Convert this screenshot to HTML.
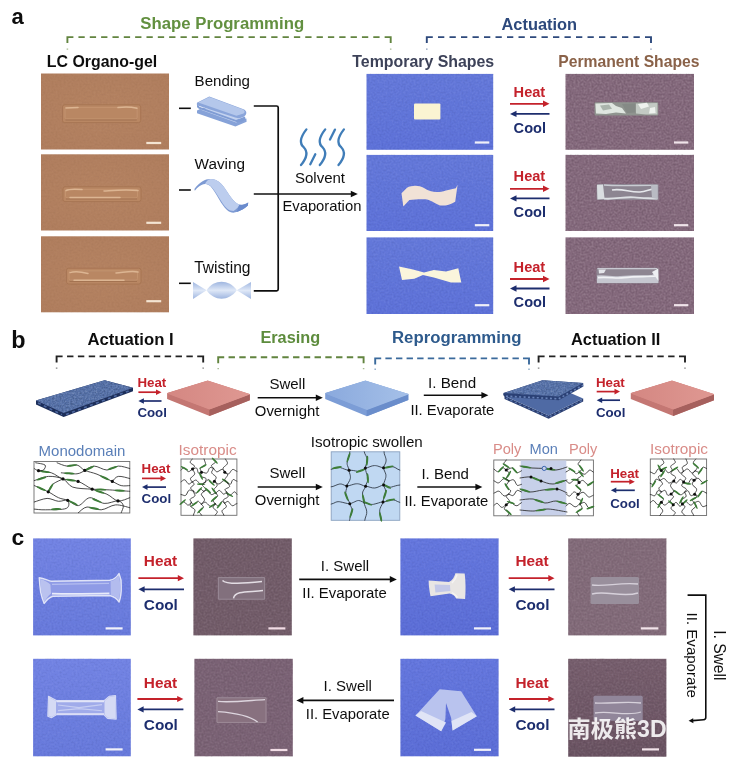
<!DOCTYPE html><html><head><meta charset="utf-8"><title>Figure</title><style>html,body{margin:0;padding:0;background:#fff}svg{display:block}text{font-family:"Liberation Sans", Arial, Helvetica, sans-serif}</style></head><body>
<svg width="737" height="774" viewBox="0 0 737 774">
<defs>
<filter id="soft" x="-5%" y="-5%" width="110%" height="110%"><feGaussianBlur stdDeviation="0.6"/></filter>
<filter id="nzW" x="0" y="0" width="100%" height="100%" color-interpolation-filters="sRGB"><feTurbulence type="fractalNoise" baseFrequency="0.5" numOctaves="2" seed="4"/><feColorMatrix type="matrix" values="0 0 0 0 1  0 0 0 0 1  0 0 0 0 1  0 1.5 0 0 -0.75"/></filter>
<filter id="nzB" x="0" y="0" width="100%" height="100%" color-interpolation-filters="sRGB"><feTurbulence type="fractalNoise" baseFrequency="0.5" numOctaves="2" seed="4"/><feColorMatrix type="matrix" values="0 0 0 0 0  0 0 0 0 0  0 0 0 0 0  0 -1.5 0 0 0.75"/></filter>
<filter id="nzW2" x="0" y="0" width="100%" height="100%" color-interpolation-filters="sRGB"><feTurbulence type="fractalNoise" baseFrequency="0.55" numOctaves="2" seed="9"/><feColorMatrix type="matrix" values="0 0 0 0 1  0 0 0 0 1  0 0 0 0 1  0 1.5 0 0 -0.75"/><feComposite operator="in" in2="SourceAlpha"/></filter>
<filter id="nzB2" x="0" y="0" width="100%" height="100%" color-interpolation-filters="sRGB"><feTurbulence type="fractalNoise" baseFrequency="0.55" numOctaves="2" seed="9"/><feColorMatrix type="matrix" values="0 0 0 0 0  0 0 0 0 0  0 0 0 0 0  0 -1.5 0 0 0.75"/><feComposite operator="in" in2="SourceAlpha"/></filter>
<filter id="gsoft" x="0" y="0" width="100%" height="100%"><feGaussianBlur stdDeviation="0.45"/></filter>
<filter id="soft2" x="-10%" y="-10%" width="120%" height="120%"><feGaussianBlur stdDeviation="1.0"/></filter>
<linearGradient id="gBlueA" x1="0" y1="0" x2="0" y2="1"><stop offset="0" stop-color="#6478d9"/><stop offset="1" stop-color="#5d71d8"/></linearGradient>
<linearGradient id="gBlueC" x1="0" y1="0" x2="0" y2="1"><stop offset="0" stop-color="#7283e3"/><stop offset="1" stop-color="#6779db"/></linearGradient>
<linearGradient id="gBlueC2" x1="0" y1="0" x2="0" y2="1"><stop offset="0" stop-color="#6476dd"/><stop offset="1" stop-color="#5b6dd6"/></linearGradient>
<radialGradient id="gBrown" cx="0.5" cy="0.5" r="0.7"><stop offset="0" stop-color="#b48261"/><stop offset="1" stop-color="#af7d5d"/></radialGradient>
<linearGradient id="gPurD" x1="0" y1="0" x2="0" y2="1"><stop offset="0" stop-color="#765e6d"/><stop offset="1" stop-color="#6a5362"/></linearGradient>
<linearGradient id="gPinkTop" x1="0" y1="0" x2="1" y2="0"><stop offset="0" stop-color="#d48782"/><stop offset="1" stop-color="#df9892"/></linearGradient>
<linearGradient id="gLBTop" x1="0" y1="0" x2="1" y2="0"><stop offset="0" stop-color="#8aa9dd"/><stop offset="1" stop-color="#a5c0e8"/></linearGradient>
<linearGradient id="gTwist" x1="0" y1="0" x2="0" y2="1"><stop offset="0" stop-color="#9fb6e0"/><stop offset="0.5" stop-color="#dfe8f7"/><stop offset="1" stop-color="#9fb6e0"/></linearGradient>
</defs>
<rect x="0.0" y="0.0" width="737.0" height="774.0" fill="#ffffff" />
<g filter="url(#gsoft)">
<text x="11.5" y="23.8" font-size="22" font-weight="700" fill="#111" text-anchor="start" >a</text>
<text x="140.3" y="29.2" font-size="16.75" font-weight="700" fill="#62903f" text-anchor="start" >Shape Programming</text>
<text x="501.5" y="29.8" font-size="16.4" font-weight="700" fill="#2d4a7c" text-anchor="start" >Actuation</text>
<path d="M67.4,43.1 V37.1 H73.4 M384.7,37.1 H390.7 V43.1" fill="none" stroke="#62843f" stroke-width="1.9"/>
<path d="M78.44,37.1 H384.7" fill="none" stroke="#62843f" stroke-width="1.9" stroke-dasharray="6.3,5.04"/>
<path d="M67.4,48.400000000000006 v1.3 M390.7,48.400000000000006 v1.3" stroke="#62843f" stroke-width="1.52" opacity="0.55"/>
<path d="M426.8,43.1 V37.1 H432.8 M645.0,37.1 H651 V43.1" fill="none" stroke="#2d4a7c" stroke-width="1.9"/>
<path d="M438.00,37.1 H645.0" fill="none" stroke="#2d4a7c" stroke-width="1.9" stroke-dasharray="6.3,5.20"/>
<path d="M426.8,48.400000000000006 v1.3 M651,48.400000000000006 v1.3" stroke="#2d4a7c" stroke-width="1.52" opacity="0.55"/>
<text x="46.8" y="66.9" font-size="15.9" font-weight="700" fill="#111" text-anchor="start" >LC Organo-gel</text>
<text x="352.3" y="67.2" font-size="15.9" font-weight="700" fill="#3d4259" text-anchor="start" >Temporary Shapes</text>
<text x="558.2" y="67.2" font-size="15.7" font-weight="700" fill="#8a6248" text-anchor="start" >Permanent Shapes</text>
<rect x="41.0" y="73.5" width="128.0" height="76.0" fill="url(#gBrown)" />
<rect x="41.0" y="73.5" width="128.0" height="76.0" filter="url(#nzW)" opacity="0.06"/><rect x="41.0" y="73.5" width="128.0" height="76.0" filter="url(#nzB)" opacity="0.06"/>
<rect x="41.0" y="154.3" width="128.0" height="76.2" fill="url(#gBrown)" />
<rect x="41.0" y="154.3" width="128.0" height="76.2" filter="url(#nzW)" opacity="0.06"/><rect x="41.0" y="154.3" width="128.0" height="76.2" filter="url(#nzB)" opacity="0.06"/>
<rect x="41.0" y="236.3" width="128.0" height="76.0" fill="url(#gBrown)" />
<rect x="41.0" y="236.3" width="128.0" height="76.0" filter="url(#nzW)" opacity="0.06"/><rect x="41.0" y="236.3" width="128.0" height="76.0" filter="url(#nzB)" opacity="0.06"/>
<rect x="366.5" y="73.9" width="126.7" height="75.9" fill="url(#gBlueA)" />
<rect x="565.5" y="73.9" width="128.5" height="75.9" fill="#84697c" />
<rect x="565.5" y="73.9" width="128.5" height="75.9" filter="url(#nzW)" opacity="0.24"/><rect x="565.5" y="73.9" width="128.5" height="75.9" filter="url(#nzB)" opacity="0.24"/>
<rect x="366.5" y="73.9" width="126.7" height="75.9" filter="url(#nzW)" opacity="0.12"/><rect x="366.5" y="73.9" width="126.7" height="75.9" filter="url(#nzB)" opacity="0.12"/>
<rect x="366.5" y="154.9" width="126.7" height="76.1" fill="url(#gBlueA)" />
<rect x="565.5" y="154.9" width="128.5" height="76.1" fill="#84697c" />
<rect x="565.5" y="154.9" width="128.5" height="76.1" filter="url(#nzW)" opacity="0.24"/><rect x="565.5" y="154.9" width="128.5" height="76.1" filter="url(#nzB)" opacity="0.24"/>
<rect x="366.5" y="154.9" width="126.7" height="76.1" filter="url(#nzW)" opacity="0.12"/><rect x="366.5" y="154.9" width="126.7" height="76.1" filter="url(#nzB)" opacity="0.12"/>
<rect x="366.5" y="237.4" width="126.7" height="76.6" fill="url(#gBlueA)" />
<rect x="565.5" y="237.4" width="128.5" height="76.6" fill="#84697c" />
<rect x="565.5" y="237.4" width="128.5" height="76.6" filter="url(#nzW)" opacity="0.24"/><rect x="565.5" y="237.4" width="128.5" height="76.6" filter="url(#nzB)" opacity="0.24"/>
<rect x="366.5" y="237.4" width="126.7" height="76.6" filter="url(#nzW)" opacity="0.12"/><rect x="366.5" y="237.4" width="126.7" height="76.6" filter="url(#nzB)" opacity="0.12"/>
<g filter="url(#soft)"><rect x="62.5" y="104.8" width="78.19999999999999" height="17.799999999999997" rx="2.2" fill="#b98764" stroke="#a67451" stroke-width="0.9"/><rect x="65.0" y="107.39999999999999" width="72.19999999999999" height="11.399999999999997" rx="1.5" fill="none" stroke="#c4946f" stroke-width="0.9"/><path d="M65.5,120.0 H136.7" stroke="#a27150" stroke-width="1" fill="none"/><path d="M118,107.6 C124,106.6 131,106.8 137,108.2" stroke="#dcb592" stroke-width="1.5" stroke-linecap="round" fill="none"/><path d="M66,108 L78,107.6" stroke="#dcb592" stroke-width="1.5" stroke-linecap="round" fill="none"/></g>
<g filter="url(#soft)"><rect x="63" y="186.8" width="78" height="14.799999999999983" rx="2.2" fill="#b98764" stroke="#a67451" stroke-width="0.9"/><rect x="65.5" y="189.4" width="72" height="8.399999999999983" rx="1.5" fill="none" stroke="#c4946f" stroke-width="0.9"/><path d="M66,199.0 H137" stroke="#a27150" stroke-width="1" fill="none"/><path d="M66,190.6 C70,188.4 76,189 82,189.6" stroke="#dcb592" stroke-width="1.5" stroke-linecap="round" fill="none"/><path d="M104,191 C114,190.4 126,189.2 138,190.6" stroke="#dcb592" stroke-width="1.5" stroke-linecap="round" fill="none"/><path d="M70,197.6 H120" stroke="#dcb592" stroke-width="1.5" stroke-linecap="round" fill="none"/></g>
<g filter="url(#soft)"><rect x="66.5" y="268.2" width="74.5" height="15.800000000000011" rx="2.2" fill="#b98764" stroke="#a67451" stroke-width="0.9"/><rect x="69.0" y="270.8" width="68.5" height="9.400000000000011" rx="1.5" fill="none" stroke="#c4946f" stroke-width="0.9"/><path d="M69.5,281.4 H137" stroke="#a27150" stroke-width="1" fill="none"/><path d="M70,272.6 C76,270.8 82,272 88,273.4" stroke="#dcb592" stroke-width="1.5" stroke-linecap="round" fill="none"/><path d="M116,273 C124,272.4 131,270.6 138,272" stroke="#dcb592" stroke-width="1.5" stroke-linecap="round" fill="none"/><path d="M74,280.2 H124" stroke="#dcb592" stroke-width="1.5" stroke-linecap="round" fill="none"/></g>
<rect x="146.3" y="141.9" width="14.9" height="2.2" fill="#f3e4d2" />
<rect x="146.3" y="221.7" width="14.9" height="2.2" fill="#f3e4d2" />
<rect x="146.3" y="300.1" width="14.9" height="2.2" fill="#f3e4d2" />
<line x1="179" y1="108.3" x2="190.8" y2="108.3" stroke="#111" stroke-width="1.6" />
<line x1="179" y1="190" x2="190.8" y2="190" stroke="#111" stroke-width="1.6" />
<line x1="179" y1="283.3" x2="190.8" y2="283.3" stroke="#111" stroke-width="1.6" />
<path d="M253.8,106 H276.6 Q278.2,106 278.2,107.6 V289.2 Q278.2,290.8 276.6,290.8 H253.8" fill="none" stroke="#111" stroke-width="1.7"/>
<line x1="253.8" y1="194" x2="352.90000000000003" y2="194" stroke="#111" stroke-width="1.6" />
<polygon points="357.8,194 350.8,190.7 350.8,197.3" fill="#111"/>
<text x="194.6" y="85.9" font-size="15.1"  fill="#111" text-anchor="start" >Bending</text>
<text x="194.6" y="169.2" font-size="15.3"  fill="#111" text-anchor="start" >Waving</text>
<text x="194.2" y="273.4" font-size="15.6"  fill="#111" text-anchor="start" >Twisting</text>
<text x="295" y="183.2" font-size="15"  fill="#111" text-anchor="start" >Solvent</text>
<text x="282.4" y="210.9" font-size="14.8"  fill="#111" text-anchor="start" >Evaporation</text>
<g filter="url(#soft)">
<path d="M197,110.6 L203,107.6 L240,120.4 L246.4,118.6 L246.6,121.8 L235.4,126.6 L197,113.2 Z" fill="#86a2d8"/>
<path d="M200,109.6 L236,122.6 L243.5,119.8 L209,108.2 Z" fill="#c3d2ef"/>
<path d="M197.4,104.2 C196.4,106.2 197,108 199,108.8 L236.5,122 C240,123 243,121.5 245.6,119.6 L245,116.5 L236,120 L199.4,106.8 Z" fill="#7f9cd4"/>
<path d="M196.9,102.7 L209.3,96.4 L243.5,109.2 C246.6,110.6 247.2,113.4 245.2,115.4 C243,117.6 239,118.8 236,117.8 L196.9,105.2 Z" fill="#8aa5da"/>
<path d="M198.2,102.4 L209.4,97 L243,109.6 C245,110.6 245.2,112.4 243.6,113.6 L236.4,115.8 Z" fill="#b4c7eb"/>
</g>
<g filter="url(#soft)">
<path d="M194.4,189.1 C197,185.6 199.6,183 202.6,181.3 C205.4,179.6 208,178.8 210.7,179 C214,179.2 216.6,180.2 218.9,181.8 C222,184.2 224.6,187.8 227,191.5 C229.6,195.4 232.2,199.2 235.1,202.1 C237.2,204 239.4,205 241.7,205 C244,204.8 246.2,203.8 248.2,202.4 L247.9,205.4 C245.6,207.6 243,209.6 240,210.6 C237.8,211.6 235.6,212.6 233.5,212.7 C231.2,212.6 229,211.6 227,209.9 C224,207.2 221.4,203.2 218.9,198.9 C216.2,194.4 213.6,190 210.7,186.6 C209,184.8 207,183.8 205,183.9 C203,184.2 201,185 199.3,186.2 C197.6,187.4 196.2,189 194.8,190.7 Z" fill="#7d9ad3"/>
<path d="M205,183.9 C206,181.6 208,179.4 210.7,179 C214,179.2 216.6,180.2 218.9,181.8 C222,184.2 224.6,187.8 227,191.5 C229.6,195.4 232.2,199.2 235.1,202.1 C236.6,203.4 238,204.2 239.4,204.8 C238.4,207 236.6,209.4 233.6,211 C231.4,211 229,210.4 227,208.6 C224,205.8 221.4,201.8 218.9,197.6 C216.2,193 213.6,189 210.7,186 C209,184.4 207,183.8 205,183.9 Z" fill="#bccdee"/>
<path d="M239.4,204.8 C242.4,205 245.6,204 248.2,202.4 L247.9,205.4 C245,208.2 241,210.6 237,212 C237.4,209.6 238.4,207 239.4,204.8 Z" fill="#6a8bcd"/>
</g>
<g filter="url(#soft)">
<path d="M193,282 L206.6,290.3 L193,299 Z" fill="url(#gTwist)"/>
<path d="M206.6,290.3 C214,279 229,279 236.8,290.3 C229,301.5 214,301.5 206.6,290.3 Z" fill="url(#gTwist)"/>
<path d="M251,282 L236.8,290.3 L251,299 Z" fill="url(#gTwist)"/>
</g>
<path d="M306.4,129.4 C299.5,138.3 299.5,143.64000000000001 303.7,147.2 C307.9,151.472 306.9,157.88 301.0,165" fill="none" stroke="#3f7db8" stroke-width="2.3" stroke-linecap="round"/>
<path d="M325.2,129.4 C318.3,138.3 318.3,143.64000000000001 322.5,147.2 C326.7,151.472 325.7,157.88 319.8,165" fill="none" stroke="#3f7db8" stroke-width="2.3" stroke-linecap="round"/>
<path d="M343.9,129.4 C337.0,138.3 337.0,143.64000000000001 341.2,147.2 C345.4,151.472 344.4,157.88 338.5,165" fill="none" stroke="#3f7db8" stroke-width="2.3" stroke-linecap="round"/>
<path d="M315.3,154.2 L310.3,164.3 M335,129.6 L330,139.5" stroke="#3f7db8" stroke-width="2.3" stroke-linecap="round"/>
<g filter="url(#soft)">
<rect x="414" y="103.5" width="26.4" height="16" rx="1" fill="#fbf4d2"/>
<path d="M401.5,193.2 L407,187.7 C412,185 419,185 424,188 C430,192 437,193.5 446,190.5 L455.8,188.3 L457.6,184.7 L455.2,201.7 C450,205 444,206 440,205.4 C434,203 430,199.5 425.3,199.3 C420,199 414,199.5 409.4,200 L403.3,206.6 Z" fill="#f1e2d6"/>
<polygon points="399,266.5 413,269.5 424,272.6 433.8,270 446,271.4 458.3,268.3 461.3,282.4 451,282.4 433.8,277.5 422.9,275 414.3,278.7 402,280" fill="#faf5dc"/>
</g>
<rect x="474.8" y="141.4" width="14.5" height="2.2" fill="#f0f0f8" />
<rect x="674.0" y="141.4" width="14.3" height="2.2" fill="#f0e4ea" />
<rect x="474.8" y="224.1" width="14.5" height="2.2" fill="#f0f0f8" />
<rect x="674.0" y="224.1" width="14.3" height="2.2" fill="#f0e4ea" />
<rect x="474.8" y="304.1" width="14.5" height="2.2" fill="#f0f0f8" />
<rect x="674.0" y="304.1" width="14.3" height="2.2" fill="#f0e4ea" />
<g filter="url(#soft)">
<rect x="594.6" y="102.2" width="63.6" height="13.2" rx="1" fill="#8f948f"/>
<path d="M595.4,103.4 L612,103 L616,106 L622,108 L626,113.6 L616,112.4 L606,114 L596,113.6 Z" fill="#dfe6e0"/>
<path d="M600,105.4 L609,104.6 L612,108.8 L603,110.4 Z" fill="#aab4ac"/>
<path d="M636,103.4 L657.4,103 L657.4,114.4 L646,114.6 L636,113.4 Z" fill="#c3cac4"/>
<path d="M638,104 L647,102.8 L649,106.6 L641,109 Z M650,108 L655,107 L655.6,113 L649,113.6 Z" fill="#eef2ee"/>
<path d="M622,104 L635,103.6 L635,112.6 L627,113 Z" fill="#858a86"/>
<rect x="596.6" y="184" width="62" height="16" rx="1.5" fill="#8c8591"/>
<path d="M597,184.8 L603,184.6 L604.6,199 L597.4,199.4 Z" fill="#d9dde0"/>
<path d="M604,185 C620,186.4 640,185 657.6,185.4" stroke="#c9cbd2" stroke-width="1.3" fill="none"/>
<path d="M604,198.6 C615,199.6 625,196.4 634,197.4 C642,198.6 650,198 657.6,198.6" stroke="#dcdfe3" stroke-width="1.8" fill="none"/>
<path d="M612,190 C622,188 630,192.6 640,192 C646,191.6 650,189 656,188.6" stroke="#e6e8ec" stroke-width="1.6" fill="none"/>
<path d="M651,185 L657.8,185.4 L657.8,199 L652,198 Z" fill="#b9bbc3"/>
<rect x="596.6" y="267.8" width="62" height="15.6" rx="1.5" fill="#8e8692"/>
<path d="M597.4,268.6 H657" stroke="#c9c9d2" stroke-width="1.3" fill="none"/>
<path d="M597,275.6 C606,274.6 612,277 620,276 C632,274.6 645,275.6 652,275 L658,270 L658.4,283 L597,283 Z" fill="#c6c7d0"/>
<path d="M598,277.6 C610,276.6 616,279 624,277.6 C636,276 646,277 656,276" stroke="#f1f2f5" stroke-width="1.7" fill="none"/>
<path d="M598.6,269.6 L606,269.4 L604,273 L599,273.4 Z" fill="#e4e5ea"/>
<path d="M652,272 L658.2,268.6 L658.4,281 Z" fill="#eeeff3"/>
</g>
<text x="513.6" y="96.6" font-size="14.6" font-weight="700" fill="#c4202c" text-anchor="start" >Heat</text>
<line x1="510" y1="103.8" x2="544.95" y2="103.8" stroke="#c4202c" stroke-width="1.8" />
<polygon points="549.5,103.8 543.0,100.6 543.0,107.0" fill="#c4202c"/>
<line x1="549.5" y1="113.9" x2="514.55" y2="113.9" stroke="#1f2e6e" stroke-width="1.8" />
<polygon points="510,113.9 516.5,110.7 516.5,117.10000000000001" fill="#1f2e6e"/>
<text x="513.6" y="133.2" font-size="14.6" font-weight="700" fill="#1f2e6e" text-anchor="start" >Cool</text>
<text x="513.6" y="181.4" font-size="14.6" font-weight="700" fill="#c4202c" text-anchor="start" >Heat</text>
<line x1="510" y1="188.8" x2="544.95" y2="188.8" stroke="#c4202c" stroke-width="1.8" />
<polygon points="549.5,188.8 543.0,185.60000000000002 543.0,192.0" fill="#c4202c"/>
<line x1="549.5" y1="198.4" x2="514.55" y2="198.4" stroke="#1f2e6e" stroke-width="1.8" />
<polygon points="510,198.4 516.5,195.20000000000002 516.5,201.6" fill="#1f2e6e"/>
<text x="513.6" y="217.3" font-size="14.6" font-weight="700" fill="#1f2e6e" text-anchor="start" >Cool</text>
<text x="513.6" y="271.8" font-size="14.6" font-weight="700" fill="#c4202c" text-anchor="start" >Heat</text>
<line x1="510" y1="279" x2="544.95" y2="279" stroke="#c4202c" stroke-width="1.8" />
<polygon points="549.5,279 543.0,275.8 543.0,282.2" fill="#c4202c"/>
<line x1="549.5" y1="288.5" x2="514.55" y2="288.5" stroke="#1f2e6e" stroke-width="1.8" />
<polygon points="510,288.5 516.5,285.3 516.5,291.7" fill="#1f2e6e"/>
<text x="513.6" y="307.4" font-size="14.6" font-weight="700" fill="#1f2e6e" text-anchor="start" >Cool</text>
<text x="11.2" y="347.6" font-size="23.4" font-weight="700" fill="#111" text-anchor="start" >b</text>
<text x="87.4" y="344.7" font-size="16.7" font-weight="700" fill="#111" text-anchor="start" >Actuation I</text>
<text x="260.4" y="343.2" font-size="16.3" font-weight="700" fill="#5d8c3c" text-anchor="start" >Erasing</text>
<text x="392" y="342.7" font-size="16.75" font-weight="700" fill="#2d5a8c" text-anchor="start" >Reprogramming</text>
<text x="571" y="344.7" font-size="16.4" font-weight="700" fill="#111" text-anchor="start" >Actuation II</text>
<path d="M56.6,362.4 V356.4 H62.6 M197.2,356.4 H203.2 V362.4" fill="none" stroke="#222" stroke-width="1.9"/>
<path d="M67.05,356.4 H197.2" fill="none" stroke="#222" stroke-width="1.9" stroke-dasharray="6.4,4.45"/>
<path d="M56.6,367.5 v1.3 M203.2,367.5 v1.3" stroke="#222" stroke-width="1.52" opacity="0.55"/>
<path d="M218.2,363.2 V357.2 H224.2 M357.6,357.2 H363.6 V363.2" fill="none" stroke="#62843f" stroke-width="1.9"/>
<path d="M228.55,357.2 H357.6" fill="none" stroke="#62843f" stroke-width="1.9" stroke-dasharray="6.4,4.35"/>
<path d="M218.2,368.0 v1.3 M363.6,368.0 v1.3" stroke="#62843f" stroke-width="1.52" opacity="0.55"/>
<path d="M375.2,364.4 V358.4 H381.2 M523.0,358.4 H529 V364.4" fill="none" stroke="#3b6a9c" stroke-width="1.9"/>
<path d="M385.39,358.4 H523.0" fill="none" stroke="#3b6a9c" stroke-width="1.9" stroke-dasharray="6.4,4.19"/>
<path d="M375.2,368.59999999999997 v1.3 M529,368.59999999999997 v1.3" stroke="#3b6a9c" stroke-width="1.52" opacity="0.55"/>
<path d="M538.6,362.4 V356.4 H544.6 M679.0,356.4 H685 V362.4" fill="none" stroke="#222" stroke-width="1.9"/>
<path d="M549.03,356.4 H679.0" fill="none" stroke="#222" stroke-width="1.9" stroke-dasharray="6.4,4.43"/>
<path d="M538.6,367.5 v1.3 M685,367.5 v1.3" stroke="#222" stroke-width="1.52" opacity="0.55"/>
<g filter="url(#soft)">
<polygon points="36,400.4 104.6,380.2 133,387.7 133,391.2 63.6,417 36,404.4" fill="#1f2f5a"/>
<polygon points="36,400.4 104.6,380.2 133,387.7 63.6,413" fill="#5671a8"/>
<polygon points="36,400.4 104.6,380.2 133,387.7 63.6,413" filter="url(#nzW2)" opacity="0.35"/><polygon points="36,400.4 104.6,380.2 133,387.7 63.6,413" filter="url(#nzB2)" opacity="0.35"/>
<path d="M66,414.6 L131,390 M38,403 L62,414.6" stroke="#4d68a0" stroke-width="1.6" stroke-dasharray="3,3.4" fill="none"/>
<path d="M50,398 L110,381.6 M60,404 L122,385.6 M48,402 L90,389" stroke="#6079ae" stroke-width="1.2" stroke-dasharray="2,5" fill="none" opacity="0.8"/>
</g>
<g filter="url(#soft)"><polygon points="167.1,393.2 207.7,380.8 249.8,394.2 249.8,400.272 209.6,416.09999999999997 167.1,399.065" fill="#c47773"/><polygon points="209.29999999999998,408.9 249.8,393.9 249.8,400.272 209.29999999999998,416.09999999999997" fill="#a6605d"/><polygon points="167.1,393.2 207.7,380.8 249.8,394.2 209.6,409.2" fill="url(#gPinkTop)" stroke="none" stroke-width="0.6"/><polygon points="167.1,393.59999999999997 167.1,393.0 207.7,380.6 249.8,394.0 249.8,394.59999999999997 209.6,409.59999999999997" fill="url(#gPinkTop)"/></g>
<g filter="url(#soft)"><polygon points="325.2,393.2 365.4,380.8 408.3,394.1 408.3,399.99600000000004 367,416.3 325.2,398.895" fill="#7c9dd6"/><polygon points="366.7,409.3 408.3,393.8 408.3,399.99600000000004 366.7,416.3" fill="#6a8dcb"/><polygon points="325.2,393.2 365.4,380.8 408.3,394.1 367,409.6" fill="url(#gLBTop)" stroke="none" stroke-width="0.6"/><polygon points="325.2,393.59999999999997 325.2,393.0 365.4,380.6 408.3,393.90000000000003 408.3,394.5 367,410.0" fill="url(#gLBTop)"/></g>
<g filter="url(#soft)"><polygon points="630.8,393.2 672,380.8 714,394.2 714,400.272 673.3,416.09999999999997 630.8,399.065" fill="#c47773"/><polygon points="673.0,408.9 714,393.9 714,400.272 673.0,416.09999999999997" fill="#a6605d"/><polygon points="630.8,393.2 672,380.8 714,394.2 673.3,409.2" fill="url(#gPinkTop)" stroke="none" stroke-width="0.6"/><polygon points="630.8,393.59999999999997 630.8,393.0 672,380.6 714,394.0 714,394.59999999999997 673.3,409.59999999999997" fill="url(#gPinkTop)"/></g>
<g filter="url(#soft)">
<polygon points="504.5,396 548.6,415.5 583.2,398.5 583.2,401.6 548.6,418.8 504.5,399" fill="#2a3e70"/>
<polygon points="504.5,396 542.5,381 583.2,398.5 548.6,415.5" fill="#506ba4"/>
<path d="M506,398.2 L548.6,417.2 L582.6,400.2" stroke="#5a75ab" stroke-width="1.3" stroke-dasharray="2.2,2.6" fill="none"/>
<polygon points="503.4,393.1 542.5,380.2 583.2,382.9 583.4,386.6 558.8,400.2 505,397 503.2,395" fill="#2b4074"/>
<path d="M506,396.2 L558.6,398.8 L583,385.2" stroke="#6882b8" stroke-width="1.6" stroke-dasharray="2,2.4" fill="none"/>
<polygon points="503.8,393.1 542.5,380.2 583.2,382.9 558.8,396.5" fill="#5671a8"/>
<polygon points="503.8,393.1 542.5,380.2 583.2,382.9 558.8,396.5" filter="url(#nzW2)" opacity="0.35"/><polygon points="503.8,393.1 542.5,380.2 583.2,382.9 558.8,396.5" filter="url(#nzB2)" opacity="0.35"/>
<path d="M515,391 L548,380.8 M528,393 L562,383 M542,394.6 L574,384.6" stroke="#6a84b8" stroke-width="1.1" stroke-dasharray="1.6,4" fill="none" opacity="0.8"/>
</g>
<text x="137.4" y="386.8" font-size="13.3" font-weight="700" fill="#c4202c" text-anchor="start" >Heat</text>
<line x1="138.4" y1="392.2" x2="157.65" y2="392.2" stroke="#c4202c" stroke-width="1.7" />
<polygon points="161.5,392.2 156.0,389.4 156.0,395.0" fill="#c4202c"/>
<line x1="161.5" y1="401" x2="142.25" y2="401" stroke="#1f2e6e" stroke-width="1.7" />
<polygon points="138.4,401 143.9,398.2 143.9,403.8" fill="#1f2e6e"/>
<text x="137.4" y="417.2" font-size="13.3" font-weight="700" fill="#1f2e6e" text-anchor="start" >Cool</text>
<text x="595.9" y="386.8" font-size="13.3" font-weight="700" fill="#c4202c" text-anchor="start" >Heat</text>
<line x1="596.7" y1="391.6" x2="616.15" y2="391.6" stroke="#c4202c" stroke-width="1.7" />
<polygon points="620,391.6 614.5,388.8 614.5,394.40000000000003" fill="#c4202c"/>
<line x1="620" y1="400.2" x2="600.5500000000001" y2="400.2" stroke="#1f2e6e" stroke-width="1.7" />
<polygon points="596.7,400.2 602.2,397.4 602.2,403.0" fill="#1f2e6e"/>
<text x="595.9" y="417.2" font-size="13.3" font-weight="700" fill="#1f2e6e" text-anchor="start" >Cool</text>
<text x="269.4" y="388.7" font-size="15"  fill="#111" text-anchor="start" >Swell</text>
<line x1="257.7" y1="397.7" x2="317.90000000000003" y2="397.7" stroke="#111" stroke-width="1.6" />
<polygon points="322.8,397.7 315.8,394.4 315.8,401.0" fill="#111"/>
<text x="254.8" y="415.8" font-size="14.9"  fill="#111" text-anchor="start" >Overnight</text>
<text x="428" y="387.9" font-size="15.2"  fill="#111" text-anchor="start" >I. Bend</text>
<line x1="423.8" y1="395.2" x2="483.5" y2="395.2" stroke="#111" stroke-width="1.6" />
<polygon points="488.4,395.2 481.4,391.9 481.4,398.5" fill="#111"/>
<text x="410.4" y="415.4" font-size="14.8"  fill="#111" text-anchor="start" >II. Evaporate</text>
<text x="38.6" y="456" font-size="15"  fill="#5a7fb8" text-anchor="start" >Monodomain</text>
<text x="178.6" y="454.6" font-size="15.35"  fill="#d98c88" text-anchor="start" >Isotropic</text>
<text x="310.8" y="447" font-size="15.15"  fill="#111" text-anchor="start" >Isotropic swollen</text>
<text x="493" y="454.2" font-size="14.6"  fill="#d98c88" text-anchor="start" >Poly</text>
<text x="529.6" y="454.2" font-size="14.6"  fill="#5a7fb8" text-anchor="start" >Mon</text>
<text x="569" y="454.2" font-size="14.6"  fill="#d98c88" text-anchor="start" >Poly</text>
<text x="650" y="453.8" font-size="15.35"  fill="#d98c88" text-anchor="start" >Isotropic</text>
<text x="141.6" y="473.0" font-size="13.3" font-weight="700" fill="#c4202c" text-anchor="start" >Heat</text>
<line x1="142" y1="478.4" x2="162.15" y2="478.4" stroke="#c4202c" stroke-width="1.7" />
<polygon points="166,478.4 160.5,475.59999999999997 160.5,481.2" fill="#c4202c"/>
<line x1="166" y1="487.1" x2="145.85" y2="487.1" stroke="#1f2e6e" stroke-width="1.7" />
<polygon points="142,487.1 147.5,484.3 147.5,489.90000000000003" fill="#1f2e6e"/>
<text x="141.6" y="503.2" font-size="13.3" font-weight="700" fill="#1f2e6e" text-anchor="start" >Cool</text>
<text x="610.2" y="477.6" font-size="13.3" font-weight="700" fill="#c4202c" text-anchor="start" >Heat</text>
<line x1="610.8" y1="481.7" x2="630.9499999999999" y2="481.7" stroke="#c4202c" stroke-width="1.7" />
<polygon points="634.8,481.7 629.3,478.9 629.3,484.5" fill="#c4202c"/>
<line x1="634.8" y1="490.3" x2="614.65" y2="490.3" stroke="#1f2e6e" stroke-width="1.7" />
<polygon points="610.8,490.3 616.3,487.5 616.3,493.1" fill="#1f2e6e"/>
<text x="610.2" y="508" font-size="13.3" font-weight="700" fill="#1f2e6e" text-anchor="start" >Cool</text>
<text x="269.4" y="477.5" font-size="15"  fill="#111" text-anchor="start" >Swell</text>
<line x1="257.7" y1="487" x2="317.90000000000003" y2="487" stroke="#111" stroke-width="1.6" />
<polygon points="322.8,487 315.8,483.7 315.8,490.3" fill="#111"/>
<text x="254.8" y="504.7" font-size="14.9"  fill="#111" text-anchor="start" >Overnight</text>
<text x="421.4" y="478.7" font-size="15"  fill="#111" text-anchor="start" >I. Bend</text>
<line x1="417.3" y1="487" x2="477.5" y2="487" stroke="#111" stroke-width="1.6" />
<polygon points="482.4,487 475.4,483.7 475.4,490.3" fill="#111"/>
<text x="404.4" y="506" font-size="14.8"  fill="#111" text-anchor="start" >II. Evaporate</text>
<g filter="url(#soft)">
<rect x="34" y="461.5" width="95.80000000000001" height="51.5" fill="#fff" stroke="#6d6d6d" stroke-width="0.9"/>
<path d="M34.3,468.5 C35.0,468.9 35.7,470.0 38.5,470.7 C41.4,471.4 47.3,471.4 51.4,472.8 C55.5,474.2 58.6,477.5 63.0,478.9 C67.5,480.4 73.3,479.6 78.1,481.4 C83.0,483.1 87.5,487.1 92.3,489.2 C97.0,491.3 102.6,492.2 106.9,494.2 C111.2,496.1 114.2,500.3 118.0,500.9 C121.8,501.5 127.8,498.3 129.7,497.7" fill="none" stroke="#2b2b2b" stroke-width="0.85" stroke-linecap="round"/>
<ellipse cx="45.0" cy="471.7" rx="5.2" ry="1.05" transform="rotate(9 45.0 471.7)" fill="#3e7d39"/>
<ellipse cx="70.6" cy="480.1" rx="5.2" ry="1.05" transform="rotate(9 70.6 480.1)" fill="#3e7d39"/>
<ellipse cx="99.6" cy="491.7" rx="5.2" ry="1.05" transform="rotate(19 99.6 491.7)" fill="#3e7d39"/>
<path d="M57.1,462.8 C58.7,463.4 63.7,465.8 67.0,466.1 C70.4,466.5 74.0,464.3 77.0,465.0 C80.0,465.7 81.5,468.8 84.8,470.4 C88.2,471.9 92.4,472.4 97.0,474.2 C101.5,476.1 108.3,479.5 112.3,481.4 C116.4,483.3 118.3,484.9 121.2,485.6 C124.1,486.3 128.3,485.6 129.7,485.6" fill="none" stroke="#2b2b2b" stroke-width="0.85" stroke-linecap="round"/>
<ellipse cx="72.0" cy="465.5" rx="5.2" ry="1.05" transform="rotate(-7 72.0 465.5)" fill="#3e7d39"/>
<ellipse cx="104.6" cy="477.8" rx="5.2" ry="1.05" transform="rotate(25 104.6 477.8)" fill="#3e7d39"/>
<path d="M34.3,485.6 C36.6,486.6 44.2,489.7 48.2,491.8 C52.3,493.8 55.2,496.3 58.5,497.7 C61.7,499.2 64.4,499.0 67.7,500.3 C71.1,501.6 74.8,506.0 78.4,505.6 C82.1,505.1 85.6,498.1 89.8,497.7 C94.1,497.4 99.4,502.9 104.1,503.4 C108.8,504.0 114.8,500.5 118.0,500.9 C121.2,501.2 122.8,503.6 123.3,505.6 C123.8,507.5 121.5,511.5 121.2,512.7" fill="none" stroke="#2b2b2b" stroke-width="0.85" stroke-linecap="round"/>
<ellipse cx="41.3" cy="488.7" rx="5.2" ry="1.05" transform="rotate(24 41.3 488.7)" fill="#3e7d39"/>
<ellipse cx="73.1" cy="502.9" rx="5.2" ry="1.05" transform="rotate(26 73.1 502.9)" fill="#3e7d39"/>
<ellipse cx="97.0" cy="500.6" rx="5.2" ry="1.05" transform="rotate(22 97.0 500.6)" fill="#3e7d39"/>
<path d="M35.7,462.8 C37.2,463.2 43.7,463.8 45.0,465.0 C46.3,466.2 44.6,469.0 43.5,470.0 C42.5,470.9 39.4,470.6 38.5,470.7" fill="none" stroke="#2b2b2b" stroke-width="0.85" stroke-linecap="round"/>
<path d="M34.3,502.0 C36.4,501.4 43.1,498.6 47.1,498.4 C51.1,498.3 55.0,501.0 58.5,501.3 C61.9,501.6 66.4,499.1 67.7,500.3 C69.1,501.5 70.0,506.8 66.3,508.4 C62.6,510.0 51.0,509.7 45.7,509.8 C40.3,510.0 36.2,509.2 34.3,509.1" fill="none" stroke="#2b2b2b" stroke-width="0.85" stroke-linecap="round"/>
<ellipse cx="56.0" cy="509.1" rx="5.2" ry="1.05" transform="rotate(176 56.0 509.1)" fill="#3e7d39"/>
<path d="M84.8,470.4 C86.4,469.7 90.4,466.2 94.1,466.1 C97.8,466.0 102.9,470.0 106.9,470.0 C111.0,470.0 114.5,466.3 118.3,466.1 C122.1,465.9 127.8,468.1 129.7,468.5" fill="none" stroke="#2b2b2b" stroke-width="0.85" stroke-linecap="round"/>
<ellipse cx="89.5" cy="468.2" rx="5.2" ry="1.05" transform="rotate(-25 89.5 468.2)" fill="#3e7d39"/>
<ellipse cx="112.6" cy="468.0" rx="5.2" ry="1.05" transform="rotate(-19 112.6 468.0)" fill="#3e7d39"/>
<path d="M34.3,480.6 C36.6,479.9 43.7,476.7 48.5,476.4 C53.3,476.1 59.0,477.2 63.0,478.9 C67.1,480.7 67.9,485.3 72.7,487.1 C77.6,488.8 86.1,488.7 92.3,489.2 C98.4,489.7 103.5,489.5 109.8,489.9 C116.0,490.3 126.4,491.1 129.7,491.3" fill="none" stroke="#2b2b2b" stroke-width="0.85" stroke-linecap="round"/>
<ellipse cx="41.4" cy="478.5" rx="5.2" ry="1.05" transform="rotate(-17 41.4 478.5)" fill="#3e7d39"/>
<ellipse cx="101.0" cy="489.5" rx="5.2" ry="1.05" transform="rotate(2 101.0 489.5)" fill="#3e7d39"/>
<ellipse cx="119.7" cy="490.6" rx="5.2" ry="1.05" transform="rotate(4 119.7 490.6)" fill="#3e7d39"/>
<path d="M48.2,491.8 C49.0,490.5 50.3,486.3 52.8,484.2 C55.3,482.1 61.3,479.8 63.0,478.9" fill="none" stroke="#2b2b2b" stroke-width="0.85" stroke-linecap="round"/>
<ellipse cx="50.5" cy="488.0" rx="5.2" ry="1.05" transform="rotate(-59 50.5 488.0)" fill="#3e7d39"/>
<path d="M78.4,512.7 C79.9,511.7 83.2,507.5 87.0,507.0 C90.8,506.5 96.5,510.2 101.2,509.8 C106.0,509.5 110.7,505.2 115.5,504.9 C120.2,504.5 127.3,507.2 129.7,507.7" fill="none" stroke="#2b2b2b" stroke-width="0.85" stroke-linecap="round"/>
<ellipse cx="94.1" cy="508.4" rx="5.2" ry="1.05" transform="rotate(11 94.1 508.4)" fill="#3e7d39"/>
<path d="M112.3,481.4 C113.3,480.5 115.4,476.8 118.3,476.4 C121.2,475.9 127.8,478.1 129.7,478.5" fill="none" stroke="#2b2b2b" stroke-width="0.85" stroke-linecap="round"/>
<path d="M61.3,472.8 C64.0,473.0 73.1,474.2 77.0,473.8 C80.9,473.4 83.5,471.0 84.8,470.4" fill="none" stroke="#2b2b2b" stroke-width="0.85" stroke-linecap="round"/>
<ellipse cx="69.2" cy="473.3" rx="5.2" ry="1.05" transform="rotate(4 69.2 473.3)" fill="#3e7d39"/>
<circle cx="38.5" cy="470.7" r="1.6" fill="#111"/>
<circle cx="84.8" cy="470.4" r="1.6" fill="#111"/>
<circle cx="63.0" cy="478.9" r="1.6" fill="#111"/>
<circle cx="78.1" cy="481.4" r="1.6" fill="#111"/>
<circle cx="112.3" cy="481.4" r="1.6" fill="#111"/>
<circle cx="48.2" cy="491.8" r="1.6" fill="#111"/>
<circle cx="92.2" cy="489.2" r="1.6" fill="#111"/>
<circle cx="67.7" cy="500.3" r="1.6" fill="#111"/>
<circle cx="118.0" cy="500.9" r="1.6" fill="#111"/>
<rect x="181" y="459" width="55.900000000000006" height="56.299999999999955" fill="#fff" stroke="#6d6d6d" stroke-width="0.9"/>
<path d="M181.0,470.1 C181.2,469.9 181.9,469.2 182.3,468.8 C182.8,468.4 183.2,467.9 183.7,467.9 C184.2,467.9 184.7,468.3 185.2,468.7 C185.8,469.2 186.3,470.1 186.9,470.5 C187.4,471.0 187.9,471.5 188.4,471.6 C188.9,471.7 189.4,471.5 189.8,471.2 C190.3,470.9 190.7,470.3 191.2,470.0 C191.6,469.6 192.3,469.2 192.5,469.0" fill="none" stroke="#2b2b2b" stroke-width="0.85" stroke-linecap="round"/>
<ellipse cx="184.5" cy="468.3" rx="4.2" ry="0.9" transform="rotate(30 184.5 468.3)" fill="#3e7d39"/>
<path d="M181.0,481.8 C181.2,481.6 182.0,481.1 182.4,480.8 C182.9,480.5 183.4,479.9 183.9,479.8 C184.3,479.7 184.8,479.8 185.3,480.1 C185.7,480.5 186.2,481.2 186.6,481.8 C187.1,482.4 187.5,483.2 188.0,483.6 C188.4,483.9 188.9,484.1 189.4,484.0 C189.8,483.9 190.3,483.3 190.8,483.0 C191.3,482.7 192.0,482.2 192.2,482.0" fill="none" stroke="#2b2b2b" stroke-width="0.85" stroke-linecap="round"/>
<path d="M181.0,494.5 C181.3,494.6 182.2,494.8 182.8,495.0 C183.4,495.2 184.1,495.6 184.6,495.6 C185.2,495.6 185.7,495.4 186.1,495.0 C186.5,494.6 186.9,493.7 187.2,493.0 C187.6,492.4 187.9,491.4 188.3,490.9 C188.7,490.4 189.2,490.1 189.7,490.0 C190.3,490.0 190.9,490.4 191.5,490.6 C192.1,490.8 193.1,491.1 193.4,491.2" fill="none" stroke="#2b2b2b" stroke-width="0.85" stroke-linecap="round"/>
<path d="M181.0,503.9 C181.2,503.7 181.8,503.0 182.1,502.6 C182.5,502.2 182.9,501.6 183.3,501.6 C183.7,501.5 184.2,501.9 184.7,502.3 C185.2,502.7 185.8,503.5 186.3,504.0 C186.8,504.4 187.3,504.9 187.8,505.1 C188.3,505.2 188.7,505.0 189.1,504.7 C189.5,504.5 189.8,503.8 190.2,503.4 C190.6,503.1 191.2,502.6 191.4,502.4" fill="none" stroke="#2b2b2b" stroke-width="0.85" stroke-linecap="round"/>
<ellipse cx="182.7" cy="502.1" rx="4.2" ry="0.9" transform="rotate(-42 182.7 502.1)" fill="#3e7d39"/>
<path d="M192.2,459.0 C192.1,459.2 191.7,459.9 191.3,460.3 C191.0,460.7 190.4,461.1 190.3,461.6 C190.1,462.0 190.1,462.4 190.4,462.8 C190.6,463.2 191.3,463.6 191.9,464.0 C192.4,464.4 193.3,464.8 193.8,465.2 C194.2,465.6 194.5,466.0 194.5,466.4 C194.4,466.9 193.9,467.3 193.6,467.7 C193.2,468.1 192.7,468.8 192.5,469.0" fill="none" stroke="#2b2b2b" stroke-width="0.85" stroke-linecap="round"/>
<path d="M192.5,469.0 C192.8,468.9 193.4,468.8 193.9,468.6 C194.4,468.5 195.0,468.1 195.4,468.0 C195.9,467.9 196.3,467.8 196.6,468.1 C197.0,468.4 197.2,469.0 197.4,469.6 C197.6,470.2 197.6,471.2 197.9,471.8 C198.1,472.4 198.3,473.0 198.6,473.2 C199.0,473.4 199.5,473.0 200.0,472.9 C200.5,472.7 201.3,472.3 201.5,472.2" fill="none" stroke="#2b2b2b" stroke-width="0.85" stroke-linecap="round"/>
<path d="M192.5,469.0 C192.7,469.3 193.0,470.1 193.3,470.6 C193.6,471.2 194.1,471.8 194.3,472.3 C194.6,472.9 194.8,473.4 194.7,473.9 C194.6,474.5 194.1,475.0 193.6,475.5 C193.1,476.1 192.2,476.6 191.6,477.1 C191.1,477.7 190.5,478.2 190.4,478.7 C190.3,479.3 190.8,479.8 191.1,480.4 C191.4,480.9 192.0,481.8 192.2,482.0" fill="none" stroke="#2b2b2b" stroke-width="0.85" stroke-linecap="round"/>
<path d="M192.2,482.0 C192.5,481.9 193.3,481.3 193.9,481.0 C194.4,480.6 194.9,480.1 195.5,480.1 C196.0,480.0 196.6,480.3 197.1,480.8 C197.6,481.2 198.2,482.1 198.7,482.6 C199.3,483.2 199.8,483.8 200.3,484.1 C200.9,484.3 201.4,484.3 202.0,484.1 C202.5,483.9 203.0,483.4 203.6,483.0 C204.1,482.7 204.9,482.3 205.2,482.1" fill="none" stroke="#2b2b2b" stroke-width="0.85" stroke-linecap="round"/>
<ellipse cx="201.1" cy="484.1" rx="4.2" ry="0.9" transform="rotate(1 201.1 484.1)" fill="#3e7d39"/>
<path d="M192.2,482.0 C192.4,482.2 193.2,482.7 193.5,483.0 C193.9,483.4 194.4,483.7 194.4,484.1 C194.3,484.5 193.7,484.9 193.2,485.4 C192.7,485.8 191.9,486.3 191.4,486.8 C191.0,487.2 190.7,487.6 190.6,488.0 C190.6,488.4 190.9,488.8 191.2,489.1 C191.5,489.5 192.1,489.8 192.5,490.1 C192.8,490.5 193.2,491.0 193.4,491.2" fill="none" stroke="#2b2b2b" stroke-width="0.85" stroke-linecap="round"/>
<path d="M193.4,491.2 C193.6,491.3 194.2,491.9 194.6,492.2 C195.1,492.6 195.5,493.2 195.9,493.2 C196.4,493.3 196.8,493.0 197.2,492.6 C197.7,492.3 198.1,491.4 198.6,490.9 C199.0,490.3 199.5,489.6 199.9,489.4 C200.4,489.1 200.8,489.2 201.3,489.3 C201.7,489.5 202.1,490.1 202.5,490.5 C203.0,490.8 203.6,491.3 203.8,491.4" fill="none" stroke="#2b2b2b" stroke-width="0.85" stroke-linecap="round"/>
<ellipse cx="199.3" cy="490.1" rx="4.2" ry="0.9" transform="rotate(-48 199.3 490.1)" fill="#3e7d39"/>
<path d="M193.4,491.2 C193.4,491.4 193.6,492.2 193.8,492.7 C194.1,493.2 194.5,493.8 194.7,494.3 C194.9,494.8 195.1,495.3 194.9,495.8 C194.7,496.2 194.3,496.6 193.8,497.0 C193.2,497.4 192.2,497.7 191.6,498.1 C191.0,498.5 190.2,498.8 190.1,499.3 C189.9,499.7 190.2,500.3 190.5,500.8 C190.7,501.3 191.2,502.1 191.4,502.4" fill="none" stroke="#2b2b2b" stroke-width="0.85" stroke-linecap="round"/>
<path d="M191.4,502.4 C191.6,502.6 192.1,503.4 192.4,503.8 C192.8,504.2 193.1,504.7 193.6,504.7 C194.0,504.6 194.5,504.1 195.1,503.6 C195.6,503.1 196.1,502.3 196.6,501.9 C197.1,501.5 197.6,501.2 198.1,501.2 C198.5,501.2 198.9,501.6 199.2,501.9 C199.6,502.2 199.9,502.8 200.3,503.2 C200.7,503.6 201.2,504.0 201.4,504.2" fill="none" stroke="#2b2b2b" stroke-width="0.85" stroke-linecap="round"/>
<ellipse cx="194.3" cy="504.1" rx="4.2" ry="0.9" transform="rotate(-36 194.3 504.1)" fill="#3e7d39"/>
<path d="M191.4,502.4 C191.2,502.7 190.7,503.6 190.5,504.2 C190.2,504.8 189.9,505.4 190.1,505.9 C190.3,506.4 191.0,506.9 191.6,507.3 C192.2,507.8 193.2,508.2 193.8,508.6 C194.3,509.1 194.8,509.6 194.9,510.1 C195.1,510.6 194.9,511.2 194.7,511.8 C194.6,512.4 194.1,513.0 193.9,513.6 C193.7,514.2 193.5,515.0 193.4,515.3" fill="none" stroke="#2b2b2b" stroke-width="0.85" stroke-linecap="round"/>
<path d="M204.1,459.0 C204.2,459.3 204.4,460.2 204.6,460.8 C204.8,461.4 205.2,462.1 205.3,462.7 C205.5,463.3 205.6,463.9 205.4,464.4 C205.2,464.9 204.7,465.4 204.1,465.8 C203.5,466.3 202.5,466.7 201.9,467.1 C201.2,467.6 200.5,468.0 200.3,468.5 C200.1,469.1 200.5,469.7 200.7,470.3 C200.9,470.9 201.4,471.9 201.5,472.2" fill="none" stroke="#2b2b2b" stroke-width="0.85" stroke-linecap="round"/>
<ellipse cx="203.0" cy="466.5" rx="4.2" ry="0.9" transform="rotate(151 203.0 466.5)" fill="#3e7d39"/>
<path d="M201.5,472.2 C201.8,472.2 202.7,472.3 203.3,472.4 C203.8,472.6 204.5,472.9 205.1,473.0 C205.7,473.1 206.2,473.2 206.7,473.0 C207.2,472.7 207.6,472.2 207.9,471.6 C208.3,471.0 208.5,469.9 208.8,469.3 C209.2,468.6 209.5,467.8 210.0,467.6 C210.4,467.3 211.1,467.6 211.6,467.7 C212.2,467.9 213.2,468.3 213.5,468.4" fill="none" stroke="#2b2b2b" stroke-width="0.85" stroke-linecap="round"/>
<path d="M201.5,472.2 C201.5,472.5 201.3,473.2 201.1,473.8 C200.9,474.3 200.5,474.9 200.6,475.4 C200.6,475.8 200.7,476.3 201.1,476.6 C201.6,476.9 202.4,477.1 203.1,477.3 C203.7,477.5 204.7,477.6 205.2,477.9 C205.7,478.2 206.1,478.5 206.2,478.9 C206.3,479.4 205.9,480.0 205.7,480.5 C205.6,481.1 205.3,481.9 205.2,482.1" fill="none" stroke="#2b2b2b" stroke-width="0.85" stroke-linecap="round"/>
<ellipse cx="200.9" cy="476.0" rx="4.2" ry="0.9" transform="rotate(64 200.9 476.0)" fill="#3e7d39"/>
<path d="M205.2,482.1 C205.4,482.0 205.9,481.6 206.3,481.3 C206.7,480.9 207.0,480.4 207.3,480.1 C207.7,479.8 208.1,479.5 208.4,479.5 C208.8,479.6 209.3,479.9 209.7,480.3 C210.1,480.8 210.6,481.7 211.0,482.2 C211.4,482.7 211.9,483.3 212.3,483.3 C212.7,483.4 213.0,482.9 213.4,482.6 C213.7,482.2 214.2,481.5 214.4,481.3" fill="none" stroke="#2b2b2b" stroke-width="0.85" stroke-linecap="round"/>
<ellipse cx="211.6" cy="482.8" rx="4.2" ry="0.9" transform="rotate(43 211.6 482.8)" fill="#3e7d39"/>
<path d="M205.2,482.1 C205.1,482.3 204.6,482.8 204.2,483.2 C203.9,483.5 203.3,483.8 203.0,484.2 C202.7,484.5 202.4,484.9 202.5,485.3 C202.6,485.7 203.0,486.1 203.5,486.6 C203.9,487.1 204.8,487.6 205.2,488.1 C205.6,488.5 206.1,489.0 206.1,489.4 C206.1,489.8 205.5,490.1 205.1,490.4 C204.8,490.8 204.0,491.2 203.8,491.4" fill="none" stroke="#2b2b2b" stroke-width="0.85" stroke-linecap="round"/>
<path d="M203.8,491.4 C204.1,491.3 204.9,490.7 205.5,490.5 C206.0,490.2 206.6,489.7 207.1,489.9 C207.6,490.0 208.0,490.5 208.5,491.1 C208.9,491.6 209.3,492.6 209.7,493.2 C210.2,493.8 210.6,494.3 211.1,494.5 C211.6,494.7 212.1,494.6 212.7,494.4 C213.2,494.2 213.8,493.7 214.3,493.5 C214.8,493.2 215.6,493.0 215.9,492.9" fill="none" stroke="#2b2b2b" stroke-width="0.85" stroke-linecap="round"/>
<ellipse cx="207.8" cy="490.5" rx="4.2" ry="0.9" transform="rotate(41 207.8 490.5)" fill="#3e7d39"/>
<path d="M203.8,491.4 C203.6,491.6 202.8,492.3 202.4,492.8 C202.0,493.3 201.4,493.7 201.3,494.2 C201.3,494.8 201.8,495.4 202.2,496.0 C202.6,496.7 203.4,497.4 203.8,498.0 C204.2,498.6 204.5,499.2 204.5,499.8 C204.6,500.3 204.2,500.8 203.9,501.3 C203.6,501.8 202.9,502.2 202.5,502.7 C202.1,503.2 201.6,503.9 201.4,504.2" fill="none" stroke="#2b2b2b" stroke-width="0.85" stroke-linecap="round"/>
<path d="M201.4,504.2 C201.7,504.0 202.6,503.4 203.1,503.0 C203.7,502.7 204.3,502.2 204.8,502.1 C205.4,502.1 206.0,502.5 206.5,502.9 C207.1,503.3 207.7,504.2 208.3,504.8 C208.8,505.3 209.4,505.9 210.0,506.1 C210.6,506.3 211.1,506.3 211.7,506.1 C212.3,505.9 212.8,505.3 213.4,504.9 C214.0,504.6 214.8,504.2 215.1,504.0" fill="none" stroke="#2b2b2b" stroke-width="0.85" stroke-linecap="round"/>
<ellipse cx="212.5" cy="505.5" rx="4.2" ry="0.9" transform="rotate(-33 212.5 505.5)" fill="#3e7d39"/>
<path d="M201.4,504.2 C201.6,504.4 202.2,505.1 202.5,505.5 C202.9,506.0 203.4,506.4 203.5,506.9 C203.5,507.4 203.2,507.8 202.8,508.3 C202.4,508.8 201.5,509.3 201.0,509.7 C200.4,510.2 199.8,510.7 199.5,511.2 C199.3,511.6 199.4,512.1 199.5,512.5 C199.7,513.0 200.3,513.5 200.7,513.9 C201.0,514.4 201.4,515.1 201.6,515.3" fill="none" stroke="#2b2b2b" stroke-width="0.85" stroke-linecap="round"/>
<ellipse cx="200.2" cy="510.4" rx="4.2" ry="0.9" transform="rotate(135 200.2 510.4)" fill="#3e7d39"/>
<path d="M213.3,459.0 C213.5,459.2 213.9,459.8 214.3,460.2 C214.6,460.5 215.2,460.9 215.4,461.3 C215.5,461.7 215.5,462.1 215.2,462.5 C214.9,462.9 214.2,463.3 213.6,463.7 C213.1,464.1 212.3,464.5 211.9,464.9 C211.5,465.3 211.3,465.7 211.4,466.1 C211.5,466.5 212.1,466.8 212.5,467.2 C212.8,467.6 213.3,468.2 213.5,468.4" fill="none" stroke="#2b2b2b" stroke-width="0.85" stroke-linecap="round"/>
<ellipse cx="214.8" cy="460.7" rx="4.2" ry="0.9" transform="rotate(46 214.8 460.7)" fill="#3e7d39"/>
<path d="M213.5,468.4 C213.7,468.6 214.3,469.2 214.6,469.7 C215.0,470.2 215.3,470.9 215.7,471.2 C216.1,471.6 216.5,471.8 217.1,471.8 C217.6,471.8 218.3,471.4 218.9,471.0 C219.6,470.7 220.3,470.0 221.0,469.7 C221.6,469.5 222.2,469.2 222.6,469.4 C223.1,469.6 223.4,470.2 223.8,470.7 C224.1,471.2 224.7,472.0 224.8,472.3" fill="none" stroke="#2b2b2b" stroke-width="0.85" stroke-linecap="round"/>
<path d="M213.5,468.4 C213.4,468.7 213.0,469.5 212.7,470.1 C212.4,470.6 211.8,471.2 211.7,471.7 C211.6,472.3 211.7,472.8 212.0,473.3 C212.4,473.9 213.1,474.3 213.7,474.8 C214.3,475.3 215.2,475.8 215.6,476.3 C216.0,476.9 216.2,477.4 216.2,477.9 C216.1,478.5 215.6,479.0 215.3,479.6 C215.0,480.2 214.5,481.0 214.4,481.3" fill="none" stroke="#2b2b2b" stroke-width="0.85" stroke-linecap="round"/>
<path d="M214.4,481.3 C214.7,481.5 215.4,482.0 216.0,482.4 C216.5,482.8 217.0,483.4 217.5,483.7 C218.0,483.9 218.6,484.1 219.1,483.9 C219.7,483.7 220.4,483.2 221.0,482.7 C221.6,482.2 222.3,481.4 222.9,481.0 C223.5,480.7 224.1,480.4 224.6,480.5 C225.2,480.6 225.7,481.2 226.2,481.6 C226.7,482.0 227.4,482.7 227.7,482.9" fill="none" stroke="#2b2b2b" stroke-width="0.85" stroke-linecap="round"/>
<ellipse cx="225.4" cy="481.1" rx="4.2" ry="0.9" transform="rotate(36 225.4 481.1)" fill="#3e7d39"/>
<path d="M214.4,481.3 C214.6,481.5 215.0,482.2 215.4,482.6 C215.8,483.1 216.4,483.5 216.7,483.9 C217.0,484.4 217.2,484.8 217.2,485.3 C217.1,485.8 216.7,486.4 216.2,486.9 C215.8,487.5 214.9,488.1 214.5,488.6 C214.0,489.2 213.6,489.7 213.6,490.2 C213.6,490.7 214.2,491.1 214.6,491.6 C215.0,492.0 215.7,492.6 215.9,492.9" fill="none" stroke="#2b2b2b" stroke-width="0.85" stroke-linecap="round"/>
<ellipse cx="214.1" cy="490.9" rx="4.2" ry="0.9" transform="rotate(54 214.1 490.9)" fill="#3e7d39"/>
<path d="M215.9,492.9 C216.1,492.7 216.8,492.2 217.2,491.9 C217.6,491.5 218.0,490.9 218.4,490.7 C218.8,490.4 219.3,490.3 219.7,490.5 C220.2,490.7 220.7,491.3 221.2,491.8 C221.7,492.3 222.2,493.2 222.7,493.6 C223.1,494.0 223.6,494.3 224.0,494.2 C224.5,494.2 224.9,493.6 225.3,493.2 C225.7,492.9 226.3,492.2 226.6,492.0" fill="none" stroke="#2b2b2b" stroke-width="0.85" stroke-linecap="round"/>
<path d="M215.9,492.9 C216.1,493.1 216.6,493.8 216.9,494.3 C217.2,494.8 217.7,495.3 217.7,495.8 C217.7,496.3 217.3,496.7 216.8,497.1 C216.3,497.6 215.3,498.0 214.8,498.4 C214.2,498.8 213.6,499.2 213.3,499.7 C213.1,500.1 213.2,500.6 213.3,501.1 C213.5,501.6 214.0,502.1 214.3,502.6 C214.6,503.1 215.0,503.8 215.1,504.0" fill="none" stroke="#2b2b2b" stroke-width="0.85" stroke-linecap="round"/>
<ellipse cx="214.0" cy="499.0" rx="4.2" ry="0.9" transform="rotate(138 214.0 499.0)" fill="#3e7d39"/>
<path d="M215.1,504.0 C215.3,504.2 215.9,504.5 216.4,504.8 C216.8,505.1 217.2,505.6 217.7,505.8 C218.1,506.0 218.5,506.0 218.9,505.8 C219.2,505.6 219.6,504.9 219.9,504.4 C220.3,503.8 220.6,502.8 221.0,502.4 C221.3,501.9 221.7,501.5 222.1,501.4 C222.5,501.4 222.9,501.9 223.3,502.2 C223.8,502.5 224.4,503.0 224.6,503.2" fill="none" stroke="#2b2b2b" stroke-width="0.85" stroke-linecap="round"/>
<ellipse cx="219.4" cy="505.1" rx="4.2" ry="0.9" transform="rotate(-53 219.4 505.1)" fill="#3e7d39"/>
<path d="M215.1,504.0 C214.9,504.3 214.4,505.0 214.1,505.5 C213.8,505.9 213.2,506.4 213.1,506.9 C213.0,507.3 213.2,507.8 213.5,508.3 C213.9,508.7 214.7,509.2 215.2,509.7 C215.8,510.1 216.6,510.6 216.9,511.1 C217.2,511.5 217.3,512.0 217.2,512.5 C217.1,512.9 216.5,513.4 216.2,513.9 C215.8,514.4 215.4,515.1 215.2,515.3" fill="none" stroke="#2b2b2b" stroke-width="0.85" stroke-linecap="round"/>
<path d="M225.5,459.0 C225.7,459.3 226.1,460.1 226.4,460.7 C226.7,461.3 227.2,461.9 227.4,462.4 C227.5,463.0 227.5,463.5 227.2,464.1 C226.9,464.6 226.2,465.1 225.6,465.6 C225.0,466.2 224.1,466.7 223.7,467.2 C223.3,467.7 223.0,468.3 223.0,468.8 C223.0,469.4 223.6,470.0 223.9,470.5 C224.2,471.1 224.7,472.0 224.8,472.3" fill="none" stroke="#2b2b2b" stroke-width="0.85" stroke-linecap="round"/>
<path d="M224.8,472.3 C225.1,472.4 225.9,472.9 226.4,473.2 C227.0,473.5 227.5,474.0 228.0,474.0 C228.5,474.0 229.0,473.7 229.5,473.3 C229.9,472.8 230.4,471.9 230.8,471.3 C231.3,470.7 231.7,470.0 232.2,469.7 C232.7,469.4 233.2,469.4 233.7,469.5 C234.2,469.7 234.8,470.2 235.3,470.5 C235.8,470.8 236.6,471.2 236.9,471.3" fill="none" stroke="#2b2b2b" stroke-width="0.85" stroke-linecap="round"/>
<path d="M224.8,472.3 C225.1,472.4 225.7,473.0 226.2,473.3 C226.6,473.7 227.3,474.0 227.5,474.4 C227.7,474.8 227.6,475.3 227.4,475.8 C227.1,476.4 226.4,477.0 226.0,477.6 C225.6,478.2 225.0,478.9 224.8,479.4 C224.7,479.9 224.8,480.3 225.0,480.8 C225.3,481.2 226.0,481.4 226.4,481.8 C226.9,482.2 227.5,482.7 227.7,482.9" fill="none" stroke="#2b2b2b" stroke-width="0.85" stroke-linecap="round"/>
<path d="M227.7,482.9 C227.9,483.0 228.6,483.6 229.1,483.8 C229.5,484.0 230.0,484.5 230.4,484.3 C230.7,484.2 231.0,483.6 231.3,483.0 C231.6,482.4 231.8,481.4 232.1,480.8 C232.4,480.3 232.7,479.8 233.0,479.6 C233.4,479.4 233.8,479.5 234.2,479.7 C234.7,479.9 235.2,480.3 235.6,480.6 C236.0,480.8 236.7,481.0 236.9,481.1" fill="none" stroke="#2b2b2b" stroke-width="0.85" stroke-linecap="round"/>
<path d="M227.7,482.9 C227.8,483.1 228.0,483.7 228.3,484.1 C228.6,484.5 229.1,485.0 229.3,485.4 C229.5,485.8 229.7,486.2 229.6,486.6 C229.4,487.0 229.0,487.3 228.5,487.6 C227.9,488.0 227.0,488.2 226.4,488.5 C225.8,488.8 225.1,489.1 225.0,489.5 C224.8,489.9 225.3,490.3 225.5,490.7 C225.8,491.2 226.4,491.8 226.6,492.0" fill="none" stroke="#2b2b2b" stroke-width="0.85" stroke-linecap="round"/>
<path d="M226.6,492.0 C226.7,492.2 227.3,492.7 227.7,493.1 C228.1,493.5 228.4,494.1 228.8,494.4 C229.1,494.8 229.5,495.1 230.0,495.1 C230.4,495.0 230.9,494.7 231.5,494.3 C232.0,493.9 232.6,493.1 233.2,492.7 C233.7,492.2 234.2,491.8 234.7,491.8 C235.1,491.8 235.5,492.4 235.8,492.8 C236.2,493.2 236.7,493.9 236.9,494.2" fill="none" stroke="#2b2b2b" stroke-width="0.85" stroke-linecap="round"/>
<ellipse cx="229.4" cy="494.7" rx="4.2" ry="0.9" transform="rotate(28 229.4 494.7)" fill="#3e7d39"/>
<path d="M226.6,492.0 C226.6,492.3 226.9,493.0 227.1,493.6 C227.3,494.1 227.8,494.6 227.9,495.2 C228.1,495.7 228.3,496.2 228.1,496.6 C227.9,497.1 227.4,497.4 226.8,497.8 C226.2,498.2 225.2,498.5 224.6,498.9 C224.0,499.3 223.4,499.6 223.2,500.1 C223.1,500.5 223.5,501.1 223.7,501.6 C224.0,502.1 224.5,502.9 224.6,503.2" fill="none" stroke="#2b2b2b" stroke-width="0.85" stroke-linecap="round"/>
<path d="M224.6,503.2 C224.9,503.0 225.7,502.4 226.2,502.1 C226.7,501.8 227.3,501.3 227.8,501.4 C228.3,501.5 228.8,502.0 229.3,502.5 C229.8,503.1 230.2,504.0 230.7,504.5 C231.2,505.1 231.7,505.5 232.2,505.7 C232.7,505.8 233.3,505.6 233.8,505.4 C234.3,505.2 234.8,504.6 235.3,504.3 C235.9,504.0 236.6,503.7 236.9,503.6" fill="none" stroke="#2b2b2b" stroke-width="0.85" stroke-linecap="round"/>
<path d="M224.6,503.2 C224.8,503.5 225.4,504.2 225.7,504.8 C226.0,505.3 226.5,505.8 226.4,506.3 C226.4,506.8 226.0,507.3 225.5,507.8 C225.0,508.3 224.0,508.7 223.5,509.2 C222.9,509.7 222.3,510.2 222.1,510.6 C221.9,511.1 222.0,511.7 222.2,512.2 C222.4,512.7 222.9,513.2 223.2,513.7 C223.5,514.3 223.9,515.0 224.0,515.3" fill="none" stroke="#2b2b2b" stroke-width="0.85" stroke-linecap="round"/>
<circle cx="192.5" cy="469.0" r="1.5" fill="#111"/>
<circle cx="201.5" cy="472.2" r="1.5" fill="#111"/>
<circle cx="214.4" cy="481.3" r="1.5" fill="#111"/>
<circle cx="224.8" cy="472.3" r="1.5" fill="#111"/>
<rect x="650.3" y="459" width="56.30000000000007" height="56.5" fill="#fff" stroke="#6d6d6d" stroke-width="0.9"/>
<path d="M650.3,472.0 C650.5,472.1 651.3,472.3 651.8,472.6 C652.3,472.8 652.8,473.3 653.3,473.5 C653.8,473.7 654.3,473.8 654.7,473.6 C655.2,473.4 655.6,472.9 655.9,472.3 C656.3,471.8 656.6,470.8 657.0,470.2 C657.4,469.6 657.8,469.0 658.2,468.9 C658.7,468.8 659.2,469.2 659.7,469.5 C660.2,469.7 661.0,470.3 661.3,470.4" fill="none" stroke="#2b2b2b" stroke-width="0.85" stroke-linecap="round"/>
<path d="M650.3,483.4 C650.6,483.5 651.4,483.9 651.9,484.1 C652.4,484.3 652.9,484.7 653.3,484.5 C653.7,484.3 654.0,483.6 654.2,483.0 C654.5,482.4 654.6,481.4 654.9,480.8 C655.1,480.2 655.4,479.6 655.8,479.4 C656.1,479.1 656.6,479.2 657.1,479.3 C657.5,479.4 658.1,479.8 658.6,480.0 C659.1,480.2 659.8,480.3 660.1,480.4" fill="none" stroke="#2b2b2b" stroke-width="0.85" stroke-linecap="round"/>
<ellipse cx="653.8" cy="483.8" rx="4.2" ry="0.9" transform="rotate(-58 653.8 483.8)" fill="#3e7d39"/>
<path d="M650.3,494.5 C650.6,494.5 651.3,494.7 651.9,494.9 C652.4,495.1 653.0,495.6 653.5,495.7 C654.0,495.8 654.5,495.9 655.0,495.6 C655.4,495.3 655.7,494.7 656.1,494.1 C656.4,493.5 656.6,492.5 657.0,491.9 C657.3,491.3 657.7,490.7 658.1,490.6 C658.6,490.4 659.2,490.8 659.7,491.0 C660.2,491.2 661.1,491.7 661.3,491.8" fill="none" stroke="#2b2b2b" stroke-width="0.85" stroke-linecap="round"/>
<path d="M650.3,502.5 C650.5,502.3 651.2,501.8 651.7,501.4 C652.1,501.1 652.6,500.5 653.0,500.5 C653.5,500.4 654.0,500.8 654.4,501.2 C654.9,501.6 655.4,502.5 655.9,503.0 C656.3,503.6 656.8,504.2 657.3,504.4 C657.7,504.6 658.2,504.6 658.7,504.4 C659.1,504.2 659.6,503.6 660.0,503.2 C660.5,502.9 661.2,502.5 661.4,502.3" fill="none" stroke="#2b2b2b" stroke-width="0.85" stroke-linecap="round"/>
<path d="M661.9,459.0 C662.1,459.2 662.4,460.0 662.8,460.5 C663.1,461.0 663.6,461.5 663.8,462.0 C663.9,462.5 663.9,462.9 663.6,463.4 C663.4,463.9 662.7,464.3 662.1,464.7 C661.5,465.2 660.6,465.6 660.2,466.1 C659.7,466.5 659.4,467.0 659.4,467.4 C659.4,467.9 660.0,468.4 660.3,468.9 C660.6,469.4 661.1,470.2 661.3,470.4" fill="none" stroke="#2b2b2b" stroke-width="0.85" stroke-linecap="round"/>
<ellipse cx="659.8" cy="468.2" rx="4.2" ry="0.9" transform="rotate(60 659.8 468.2)" fill="#3e7d39"/>
<path d="M661.3,470.4 C661.5,470.2 662.2,469.6 662.7,469.2 C663.1,468.9 663.6,468.4 664.1,468.5 C664.5,468.6 665.0,469.2 665.5,469.7 C665.9,470.2 666.4,471.2 666.9,471.7 C667.4,472.2 667.8,472.6 668.3,472.7 C668.8,472.8 669.2,472.5 669.7,472.3 C670.2,472.0 670.6,471.4 671.1,471.1 C671.6,470.8 672.3,470.5 672.5,470.4" fill="none" stroke="#2b2b2b" stroke-width="0.85" stroke-linecap="round"/>
<ellipse cx="663.4" cy="468.9" rx="4.2" ry="0.9" transform="rotate(-27 663.4 468.9)" fill="#3e7d39"/>
<path d="M661.3,470.4 C661.4,470.6 661.9,471.3 662.2,471.8 C662.4,472.2 663.0,472.7 663.0,473.1 C663.0,473.6 662.7,474.0 662.2,474.3 C661.8,474.7 660.9,475.0 660.3,475.3 C659.7,475.7 658.9,476.0 658.6,476.4 C658.3,476.8 658.3,477.2 658.4,477.6 C658.5,478.1 659.0,478.6 659.3,479.0 C659.6,479.5 660.0,480.1 660.1,480.4" fill="none" stroke="#2b2b2b" stroke-width="0.85" stroke-linecap="round"/>
<ellipse cx="662.6" cy="473.7" rx="4.2" ry="0.9" transform="rotate(122 662.6 473.7)" fill="#3e7d39"/>
<path d="M660.1,480.4 C660.4,480.2 661.3,479.7 661.8,479.4 C662.4,479.1 663.0,478.5 663.6,478.5 C664.2,478.5 664.7,478.9 665.3,479.3 C665.8,479.8 666.3,480.7 666.9,481.3 C667.4,481.8 668.0,482.5 668.5,482.8 C669.1,483.0 669.7,483.0 670.2,482.9 C670.8,482.7 671.4,482.2 672.0,481.9 C672.6,481.5 673.5,481.2 673.8,481.0" fill="none" stroke="#2b2b2b" stroke-width="0.85" stroke-linecap="round"/>
<path d="M660.1,480.4 C660.3,480.6 660.9,481.2 661.2,481.7 C661.6,482.1 662.3,482.5 662.4,483.0 C662.6,483.5 662.5,484.0 662.2,484.5 C661.9,485.0 661.1,485.6 660.6,486.1 C660.1,486.6 659.4,487.2 659.1,487.7 C658.9,488.2 658.8,488.7 659.0,489.2 C659.2,489.6 659.8,490.0 660.2,490.5 C660.6,490.9 661.2,491.6 661.3,491.8" fill="none" stroke="#2b2b2b" stroke-width="0.85" stroke-linecap="round"/>
<path d="M661.3,491.8 C661.6,491.7 662.3,491.4 662.8,491.2 C663.2,490.9 663.8,490.5 664.2,490.4 C664.7,490.3 665.1,490.4 665.4,490.7 C665.8,491.1 666.0,491.8 666.3,492.5 C666.6,493.1 666.8,494.0 667.1,494.5 C667.4,495.0 667.8,495.4 668.2,495.4 C668.6,495.5 669.1,495.0 669.6,494.8 C670.1,494.6 670.8,494.2 671.1,494.0" fill="none" stroke="#2b2b2b" stroke-width="0.85" stroke-linecap="round"/>
<path d="M661.3,491.8 C661.2,492.0 660.7,492.7 660.4,493.1 C660.0,493.5 659.4,494.0 659.3,494.4 C659.2,494.9 659.3,495.3 659.7,495.7 C660.0,496.2 660.8,496.6 661.3,497.0 C661.9,497.5 662.7,497.9 663.0,498.3 C663.4,498.8 663.5,499.2 663.4,499.7 C663.3,500.1 662.7,500.5 662.4,501.0 C662.0,501.4 661.5,502.1 661.4,502.3" fill="none" stroke="#2b2b2b" stroke-width="0.85" stroke-linecap="round"/>
<ellipse cx="660.5" cy="496.4" rx="4.2" ry="0.9" transform="rotate(38 660.5 496.4)" fill="#3e7d39"/>
<path d="M661.4,502.3 C661.6,502.5 662.2,503.2 662.6,503.6 C663.1,504.0 663.4,504.7 663.9,504.9 C664.4,505.1 664.9,505.1 665.5,504.8 C666.0,504.6 666.7,503.9 667.3,503.4 C667.9,503.0 668.6,502.3 669.1,502.1 C669.7,501.9 670.2,502.0 670.7,502.2 C671.1,502.5 671.5,503.1 671.9,503.6 C672.3,504.0 673.0,504.6 673.2,504.8" fill="none" stroke="#2b2b2b" stroke-width="0.85" stroke-linecap="round"/>
<path d="M661.4,502.3 C661.2,502.6 660.4,503.3 660.0,503.8 C659.7,504.3 659.1,504.8 659.1,505.4 C659.2,505.9 659.7,506.6 660.2,507.2 C660.6,507.8 661.5,508.4 661.9,509.0 C662.3,509.6 662.7,510.2 662.7,510.8 C662.8,511.4 662.5,511.9 662.1,512.4 C661.8,512.9 661.2,513.4 660.9,513.9 C660.5,514.5 660.1,515.2 659.9,515.5" fill="none" stroke="#2b2b2b" stroke-width="0.85" stroke-linecap="round"/>
<ellipse cx="659.6" cy="504.6" rx="4.2" ry="0.9" transform="rotate(119 659.6 504.6)" fill="#3e7d39"/>
<path d="M673.7,459.0 C673.8,459.3 674.3,460.0 674.6,460.5 C674.9,461.0 675.4,461.6 675.4,462.0 C675.4,462.5 675.0,463.0 674.5,463.4 C674.0,463.8 673.1,464.2 672.5,464.6 C671.9,465.0 671.2,465.4 670.9,465.9 C670.7,466.3 670.7,466.8 670.8,467.3 C670.9,467.8 671.5,468.3 671.8,468.8 C672.0,469.3 672.4,470.1 672.5,470.4" fill="none" stroke="#2b2b2b" stroke-width="0.85" stroke-linecap="round"/>
<path d="M672.5,470.4 C672.7,470.2 673.5,469.9 674.0,469.6 C674.5,469.3 675.0,468.8 675.4,468.6 C675.9,468.5 676.4,468.4 676.8,468.7 C677.3,468.9 677.7,469.5 678.1,470.1 C678.5,470.7 678.9,471.6 679.3,472.1 C679.7,472.6 680.1,473.0 680.6,473.1 C681.1,473.1 681.6,472.6 682.1,472.3 C682.5,472.0 683.3,471.5 683.5,471.3" fill="none" stroke="#2b2b2b" stroke-width="0.85" stroke-linecap="round"/>
<ellipse cx="674.7" cy="469.1" rx="4.2" ry="0.9" transform="rotate(-34 674.7 469.1)" fill="#3e7d39"/>
<path d="M672.5,470.4 C672.3,470.6 671.8,471.3 671.6,471.8 C671.3,472.3 670.8,472.8 670.9,473.3 C670.9,473.7 671.3,474.1 671.8,474.5 C672.4,474.9 673.3,475.2 673.9,475.6 C674.5,476.0 675.1,476.4 675.4,476.8 C675.6,477.2 675.6,477.7 675.4,478.1 C675.3,478.6 674.7,479.1 674.5,479.6 C674.2,480.1 673.9,480.8 673.8,481.0" fill="none" stroke="#2b2b2b" stroke-width="0.85" stroke-linecap="round"/>
<path d="M673.8,481.0 C673.9,481.2 674.5,481.9 674.9,482.3 C675.3,482.6 675.6,483.2 676.0,483.2 C676.4,483.2 676.9,482.8 677.3,482.4 C677.8,481.9 678.3,481.0 678.7,480.5 C679.2,480.1 679.6,479.6 680.1,479.4 C680.5,479.3 680.9,479.5 681.3,479.7 C681.7,480.0 682.0,480.6 682.4,480.9 C682.8,481.3 683.4,481.7 683.6,481.9" fill="none" stroke="#2b2b2b" stroke-width="0.85" stroke-linecap="round"/>
<path d="M673.8,481.0 C673.6,481.3 673.1,482.0 672.7,482.5 C672.2,483.0 671.6,483.4 671.2,483.9 C670.9,484.4 670.5,484.9 670.5,485.4 C670.5,486.0 670.8,486.6 671.2,487.3 C671.6,487.9 672.4,488.7 672.8,489.3 C673.2,490.0 673.6,490.6 673.6,491.2 C673.5,491.7 673.0,492.2 672.5,492.6 C672.1,493.1 671.3,493.8 671.1,494.0" fill="none" stroke="#2b2b2b" stroke-width="0.85" stroke-linecap="round"/>
<path d="M671.1,494.0 C671.3,493.8 672.1,493.2 672.6,492.8 C673.1,492.4 673.6,491.7 674.2,491.6 C674.7,491.4 675.3,491.5 676.0,491.7 C676.6,492.0 677.3,492.8 677.9,493.2 C678.6,493.7 679.2,494.4 679.8,494.6 C680.4,494.8 681.0,494.8 681.6,494.6 C682.1,494.4 682.6,493.8 683.1,493.4 C683.7,492.9 684.5,492.4 684.7,492.2" fill="none" stroke="#2b2b2b" stroke-width="0.85" stroke-linecap="round"/>
<ellipse cx="676.9" cy="492.5" rx="4.2" ry="0.9" transform="rotate(37 676.9 492.5)" fill="#3e7d39"/>
<path d="M671.1,494.0 C671.3,494.2 672.0,494.8 672.4,495.2 C672.8,495.6 673.4,495.9 673.5,496.4 C673.6,496.8 673.2,497.3 672.8,497.9 C672.4,498.4 671.6,499.1 671.2,499.6 C670.7,500.2 670.3,500.7 670.2,501.2 C670.2,501.7 670.4,502.1 670.7,502.5 C671.0,502.9 671.7,503.3 672.1,503.6 C672.5,504.0 673.0,504.6 673.2,504.8" fill="none" stroke="#2b2b2b" stroke-width="0.85" stroke-linecap="round"/>
<ellipse cx="671.4" cy="503.1" rx="4.2" ry="0.9" transform="rotate(40 671.4 503.1)" fill="#3e7d39"/>
<path d="M673.2,504.8 C673.4,504.7 673.9,504.2 674.3,503.8 C674.6,503.5 675.0,502.8 675.3,502.6 C675.7,502.4 676.1,502.4 676.5,502.6 C676.9,502.8 677.3,503.4 677.8,504.0 C678.2,504.5 678.6,505.3 679.1,505.7 C679.5,506.1 679.9,506.4 680.3,506.3 C680.7,506.2 681.0,505.6 681.4,505.3 C681.7,504.9 682.2,504.3 682.4,504.1" fill="none" stroke="#2b2b2b" stroke-width="0.85" stroke-linecap="round"/>
<path d="M673.2,504.8 C673.0,505.1 672.6,505.7 672.3,506.2 C672.0,506.6 671.4,507.1 671.2,507.5 C671.0,508.0 670.9,508.4 671.1,508.9 C671.4,509.3 672.0,509.7 672.5,510.2 C673.0,510.6 674.0,511.0 674.4,511.5 C674.9,511.9 675.3,512.4 675.3,512.8 C675.3,513.3 674.7,513.7 674.4,514.2 C674.1,514.6 673.5,515.3 673.3,515.5" fill="none" stroke="#2b2b2b" stroke-width="0.85" stroke-linecap="round"/>
<path d="M686.0,459.0 C686.1,459.3 686.3,460.1 686.6,460.7 C686.8,461.3 687.3,461.9 687.3,462.5 C687.4,463.0 687.3,463.5 687.0,464.0 C686.6,464.5 685.9,464.9 685.2,465.3 C684.6,465.7 683.6,466.0 683.1,466.4 C682.6,466.9 682.2,467.3 682.2,467.9 C682.1,468.4 682.6,469.0 682.8,469.6 C683.0,470.2 683.4,471.0 683.5,471.3" fill="none" stroke="#2b2b2b" stroke-width="0.85" stroke-linecap="round"/>
<path d="M683.5,471.3 C683.8,471.2 684.5,470.8 684.9,470.4 C685.4,470.1 685.9,469.5 686.4,469.2 C686.8,469.0 687.3,468.9 687.8,469.1 C688.3,469.2 688.8,469.8 689.3,470.3 C689.8,470.8 690.3,471.7 690.8,472.2 C691.3,472.6 691.8,473.0 692.3,473.0 C692.8,472.9 693.3,472.4 693.7,472.0 C694.2,471.7 694.9,471.1 695.1,470.9" fill="none" stroke="#2b2b2b" stroke-width="0.85" stroke-linecap="round"/>
<path d="M683.5,471.3 C683.3,471.6 682.7,472.2 682.4,472.7 C682.1,473.1 681.6,473.5 681.6,474.0 C681.6,474.4 682.0,474.9 682.5,475.3 C683.0,475.7 683.9,476.2 684.4,476.6 C685.0,477.1 685.5,477.5 685.7,477.9 C685.9,478.4 685.7,478.8 685.5,479.2 C685.3,479.7 684.7,480.1 684.4,480.6 C684.1,481.0 683.7,481.7 683.6,481.9" fill="none" stroke="#2b2b2b" stroke-width="0.85" stroke-linecap="round"/>
<path d="M683.6,481.9 C683.8,482.0 684.5,482.2 685.0,482.4 C685.5,482.7 686.0,483.1 686.5,483.3 C686.9,483.5 687.4,483.7 687.8,483.6 C688.3,483.5 688.7,483.0 689.0,482.5 C689.4,481.9 689.7,481.0 690.0,480.4 C690.4,479.8 690.7,479.0 691.2,478.9 C691.6,478.7 692.1,479.1 692.6,479.3 C693.1,479.6 693.8,480.2 694.1,480.3" fill="none" stroke="#2b2b2b" stroke-width="0.85" stroke-linecap="round"/>
<ellipse cx="687.1" cy="483.5" rx="4.2" ry="0.9" transform="rotate(11 687.1 483.5)" fill="#3e7d39"/>
<path d="M683.6,481.9 C683.4,482.1 683.1,482.8 682.9,483.3 C682.6,483.7 682.1,484.2 681.9,484.7 C681.7,485.1 681.6,485.6 681.9,486.0 C682.1,486.4 682.7,486.8 683.3,487.1 C683.9,487.5 684.8,487.8 685.3,488.2 C685.8,488.6 686.3,488.9 686.4,489.4 C686.4,489.8 686.0,490.3 685.7,490.7 C685.4,491.2 684.9,491.9 684.7,492.2" fill="none" stroke="#2b2b2b" stroke-width="0.85" stroke-linecap="round"/>
<path d="M684.7,492.2 C685.0,492.0 685.7,491.6 686.2,491.4 C686.7,491.1 687.2,490.7 687.6,490.7 C688.0,490.7 688.4,491.1 688.7,491.6 C689.0,492.1 689.3,493.0 689.6,493.6 C689.9,494.2 690.2,495.0 690.5,495.3 C690.9,495.7 691.3,495.7 691.8,495.6 C692.2,495.6 692.7,495.1 693.2,494.8 C693.7,494.6 694.4,494.3 694.6,494.2" fill="none" stroke="#2b2b2b" stroke-width="0.85" stroke-linecap="round"/>
<path d="M684.7,492.2 C684.8,492.4 685.1,493.3 685.4,493.8 C685.6,494.4 686.1,495.0 686.1,495.5 C686.2,496.1 686.0,496.5 685.7,497.0 C685.3,497.4 684.5,497.8 683.8,498.2 C683.2,498.6 682.2,498.9 681.8,499.3 C681.3,499.8 681.0,500.2 681.0,500.7 C681.0,501.2 681.5,501.8 681.7,502.4 C681.9,503.0 682.3,503.8 682.4,504.1" fill="none" stroke="#2b2b2b" stroke-width="0.85" stroke-linecap="round"/>
<ellipse cx="681.4" cy="500.0" rx="4.2" ry="0.9" transform="rotate(119 681.4 500.0)" fill="#3e7d39"/>
<path d="M682.4,504.1 C682.6,503.9 683.3,503.3 683.8,502.9 C684.2,502.5 684.6,501.9 685.1,501.7 C685.6,501.6 686.1,501.6 686.6,501.9 C687.1,502.2 687.7,503.0 688.3,503.5 C688.8,504.0 689.4,504.7 689.9,504.9 C690.5,505.2 691.0,505.2 691.4,505.0 C691.9,504.8 692.3,504.2 692.8,503.8 C693.2,503.4 693.9,502.8 694.1,502.7" fill="none" stroke="#2b2b2b" stroke-width="0.85" stroke-linecap="round"/>
<ellipse cx="684.4" cy="502.3" rx="4.2" ry="0.9" transform="rotate(-42 684.4 502.3)" fill="#3e7d39"/>
<path d="M682.4,504.1 C682.7,504.3 683.4,504.9 683.9,505.3 C684.3,505.7 684.9,506.0 684.9,506.5 C685.0,507.0 684.6,507.6 684.2,508.2 C683.8,508.8 683.0,509.4 682.6,510.0 C682.2,510.6 681.9,511.2 681.8,511.7 C681.8,512.2 682.1,512.6 682.4,513.1 C682.8,513.5 683.4,513.8 683.8,514.2 C684.3,514.7 684.8,515.3 685.0,515.5" fill="none" stroke="#2b2b2b" stroke-width="0.85" stroke-linecap="round"/>
<path d="M695.7,459.0 C695.5,459.2 695.1,460.0 694.7,460.4 C694.3,460.9 693.7,461.4 693.5,461.9 C693.4,462.4 693.3,462.9 693.6,463.4 C693.8,463.9 694.5,464.4 695.0,464.9 C695.6,465.4 696.4,466.0 696.8,466.5 C697.2,467.0 697.4,467.5 697.3,468.0 C697.2,468.5 696.6,469.0 696.2,469.4 C695.9,469.9 695.3,470.6 695.1,470.9" fill="none" stroke="#2b2b2b" stroke-width="0.85" stroke-linecap="round"/>
<ellipse cx="695.9" cy="465.7" rx="4.2" ry="0.9" transform="rotate(42 695.9 465.7)" fill="#3e7d39"/>
<path d="M695.1,470.9 C695.4,471.0 696.2,471.2 696.7,471.4 C697.3,471.7 697.9,472.1 698.4,472.2 C698.9,472.3 699.4,472.3 699.8,471.9 C700.3,471.6 700.6,470.9 701.0,470.3 C701.4,469.6 701.7,468.7 702.0,468.1 C702.4,467.6 702.8,467.2 703.3,467.1 C703.8,467.0 704.4,467.5 704.9,467.7 C705.5,467.9 706.3,468.3 706.6,468.5" fill="none" stroke="#2b2b2b" stroke-width="0.85" stroke-linecap="round"/>
<ellipse cx="700.4" cy="471.1" rx="4.2" ry="0.9" transform="rotate(-56 700.4 471.1)" fill="#3e7d39"/>
<path d="M695.1,470.9 C695.0,471.0 694.5,471.6 694.1,472.0 C693.7,472.3 693.1,472.6 692.9,473.0 C692.6,473.4 692.5,473.8 692.7,474.2 C692.9,474.6 693.4,475.1 693.9,475.5 C694.4,476.0 695.3,476.5 695.7,476.9 C696.1,477.4 696.4,477.8 696.3,478.2 C696.2,478.6 695.7,478.9 695.3,479.3 C694.9,479.6 694.3,480.1 694.1,480.3" fill="none" stroke="#2b2b2b" stroke-width="0.85" stroke-linecap="round"/>
<path d="M694.1,480.3 C694.3,480.2 695.1,479.7 695.7,479.4 C696.2,479.1 696.7,478.5 697.3,478.4 C697.8,478.3 698.3,478.3 698.8,478.6 C699.3,478.9 699.8,479.6 700.3,480.2 C700.8,480.7 701.3,481.6 701.9,482.0 C702.4,482.4 702.9,482.7 703.4,482.6 C703.9,482.6 704.5,482.0 705.0,481.7 C705.5,481.4 706.3,480.9 706.6,480.7" fill="none" stroke="#2b2b2b" stroke-width="0.85" stroke-linecap="round"/>
<ellipse cx="704.2" cy="482.2" rx="4.2" ry="0.9" transform="rotate(-30 704.2 482.2)" fill="#3e7d39"/>
<path d="M694.1,480.3 C693.9,480.6 693.3,481.5 693.0,482.1 C692.7,482.7 692.2,483.3 692.2,483.9 C692.2,484.4 692.7,485.0 693.1,485.6 C693.6,486.1 694.5,486.7 695.1,487.2 C695.7,487.8 696.3,488.3 696.5,488.9 C696.7,489.5 696.7,490.0 696.5,490.6 C696.3,491.2 695.7,491.8 695.4,492.4 C695.1,493.0 694.8,493.9 694.6,494.2" fill="none" stroke="#2b2b2b" stroke-width="0.85" stroke-linecap="round"/>
<path d="M694.6,494.2 C694.9,494.3 695.7,494.8 696.2,495.1 C696.7,495.4 697.3,495.9 697.8,495.9 C698.3,495.9 698.8,495.6 699.2,495.1 C699.7,494.6 700.1,493.7 700.6,493.1 C701.0,492.5 701.5,491.8 702.0,491.6 C702.4,491.3 702.9,491.3 703.4,491.4 C704.0,491.6 704.5,492.1 705.0,492.4 C705.6,492.7 706.3,493.1 706.6,493.2" fill="none" stroke="#2b2b2b" stroke-width="0.85" stroke-linecap="round"/>
<ellipse cx="699.9" cy="494.1" rx="4.2" ry="0.9" transform="rotate(-56 699.9 494.1)" fill="#3e7d39"/>
<path d="M694.6,494.2 C694.8,494.4 695.2,494.9 695.6,495.3 C695.9,495.7 696.4,496.0 696.5,496.4 C696.6,496.8 696.5,497.1 696.1,497.4 C695.8,497.8 695.0,498.1 694.4,498.4 C693.8,498.7 693.0,499.0 692.6,499.4 C692.3,499.7 692.1,500.1 692.2,500.4 C692.3,500.8 692.9,501.2 693.2,501.5 C693.5,501.9 694.0,502.5 694.1,502.7" fill="none" stroke="#2b2b2b" stroke-width="0.85" stroke-linecap="round"/>
<ellipse cx="693.5" cy="498.9" rx="4.2" ry="0.9" transform="rotate(151 693.5 498.9)" fill="#3e7d39"/>
<path d="M694.1,502.7 C694.4,502.6 695.3,502.4 695.9,502.1 C696.5,501.9 697.1,501.5 697.7,501.4 C698.2,501.3 698.8,501.4 699.3,501.7 C699.7,502.1 700.1,502.8 700.5,503.4 C700.9,504.1 701.2,505.1 701.7,505.6 C702.1,506.2 702.5,506.6 703.0,506.7 C703.6,506.8 704.2,506.4 704.8,506.2 C705.4,506.0 706.3,505.6 706.6,505.5" fill="none" stroke="#2b2b2b" stroke-width="0.85" stroke-linecap="round"/>
<path d="M694.1,502.7 C694.3,502.9 694.9,503.8 695.2,504.3 C695.5,504.8 696.0,505.4 696.0,505.9 C695.9,506.5 695.4,507.0 694.9,507.5 C694.4,508.0 693.4,508.5 692.9,509.0 C692.4,509.6 691.8,510.1 691.7,510.6 C691.5,511.1 691.7,511.7 691.9,512.2 C692.1,512.8 692.7,513.3 693.0,513.9 C693.3,514.4 693.6,515.2 693.7,515.5" fill="none" stroke="#2b2b2b" stroke-width="0.85" stroke-linecap="round"/>
<ellipse cx="695.6" cy="505.1" rx="4.2" ry="0.9" transform="rotate(65 695.6 505.1)" fill="#3e7d39"/>
<circle cx="661.3" cy="470.4" r="1.5" fill="#111"/>
<circle cx="661.4" cy="502.3" r="1.5" fill="#111"/>
<circle cx="673.8" cy="481.0" r="1.5" fill="#111"/>
<circle cx="671.1" cy="494.0" r="1.5" fill="#111"/>
<circle cx="673.2" cy="504.8" r="1.5" fill="#111"/>
<circle cx="683.6" cy="481.9" r="1.5" fill="#111"/>
<circle cx="682.4" cy="504.1" r="1.5" fill="#111"/>
<circle cx="694.1" cy="480.3" r="1.5" fill="#111"/>
<circle cx="694.6" cy="494.2" r="1.5" fill="#111"/>
<rect x="331.2" y="451.8" width="68.60000000000002" height="68.49999999999994" fill="#c0d8f2" stroke="#8aa2bf" stroke-width="0.9"/>
<path d="M331.2,469.3 C331.6,469.2 332.7,469.0 333.5,468.7 C334.2,468.5 335.0,468.0 335.8,467.8 C336.5,467.6 337.3,467.4 338.0,467.4 C338.8,467.4 339.5,467.5 340.3,467.6 C341.0,467.8 341.7,468.1 342.5,468.3 C343.2,468.6 344.0,468.9 344.7,469.2 C345.4,469.4 346.2,469.7 346.9,469.9 C347.6,470.0 348.7,470.2 349.1,470.3" fill="none" stroke="#2a3440" stroke-width="0.85" stroke-linecap="round"/>
<ellipse cx="336.9" cy="467.6" rx="5" ry="1.05" transform="rotate(-11 336.9 467.6)" fill="#3e7d39"/>
<path d="M331.2,486.8 C331.5,486.8 332.5,486.6 333.1,486.4 C333.8,486.2 334.4,485.9 335.1,485.6 C335.7,485.4 336.3,485.1 337.0,484.8 C337.6,484.6 338.2,484.3 338.9,484.2 C339.5,484.0 340.2,483.9 340.8,484.0 C341.5,484.0 342.2,484.2 342.8,484.5 C343.5,484.7 344.2,485.1 344.8,485.4 C345.5,485.6 346.5,485.8 346.8,485.9" fill="none" stroke="#2a3440" stroke-width="0.85" stroke-linecap="round"/>
<path d="M331.2,504.1 C331.6,504.0 332.7,503.6 333.5,503.3 C334.3,503.0 335.0,502.5 335.8,502.2 C336.6,501.9 337.3,501.7 338.1,501.7 C338.9,501.6 339.7,501.7 340.4,501.9 C341.2,502.0 342.0,502.2 342.8,502.4 C343.5,502.6 344.3,502.9 345.1,503.0 C345.9,503.2 346.7,503.4 347.4,503.5 C348.2,503.6 349.4,503.6 349.8,503.7" fill="none" stroke="#2a3440" stroke-width="0.85" stroke-linecap="round"/>
<path d="M349.8,451.8 C349.7,452.2 349.6,453.3 349.5,454.1 C349.3,454.9 349.1,455.6 348.9,456.4 C348.7,457.2 348.4,457.9 348.1,458.7 C347.9,459.4 347.6,460.2 347.4,461.0 C347.3,461.7 347.1,462.5 347.1,463.3 C347.1,464.0 347.2,464.8 347.5,465.6 C347.7,466.4 348.1,467.2 348.4,467.9 C348.7,468.7 349.0,469.9 349.1,470.3" fill="none" stroke="#2a3440" stroke-width="0.85" stroke-linecap="round"/>
<ellipse cx="348.5" cy="457.5" rx="5" ry="1.05" transform="rotate(108 348.5 457.5)" fill="#3e7d39"/>
<path d="M349.1,470.3 C349.5,470.3 350.5,470.2 351.2,470.3 C351.9,470.3 352.6,470.4 353.3,470.5 C354.0,470.6 354.7,470.8 355.4,470.9 C356.1,471.0 356.8,471.2 357.5,471.3 C358.2,471.3 358.9,471.3 359.6,471.2 C360.3,471.0 360.9,470.8 361.6,470.4 C362.2,470.1 362.8,469.5 363.5,469.1 C364.1,468.7 365.1,468.3 365.4,468.1" fill="none" stroke="#2a3440" stroke-width="0.85" stroke-linecap="round"/>
<ellipse cx="360.6" cy="470.8" rx="5" ry="1.05" transform="rotate(-21 360.6 470.8)" fill="#3e7d39"/>
<path d="M349.1,470.3 C349.2,470.6 349.2,471.6 349.4,472.3 C349.5,473.0 349.8,473.7 350.0,474.4 C350.2,475.1 350.4,475.8 350.4,476.5 C350.5,477.1 350.5,477.8 350.3,478.5 C350.2,479.1 350.0,479.7 349.7,480.4 C349.4,481.0 349.0,481.6 348.7,482.2 C348.3,482.8 347.9,483.4 347.6,484.0 C347.3,484.7 347.0,485.6 346.8,485.9" fill="none" stroke="#2a3440" stroke-width="0.85" stroke-linecap="round"/>
<path d="M346.8,485.9 C347.2,485.9 348.4,485.8 349.2,485.6 C350.0,485.4 350.8,485.1 351.6,484.9 C352.4,484.7 353.1,484.4 353.9,484.2 C354.7,484.0 355.5,483.8 356.3,483.8 C357.1,483.7 357.9,483.8 358.6,483.9 C359.4,484.0 360.2,484.3 361.0,484.6 C361.7,484.9 362.5,485.3 363.3,485.6 C364.1,485.9 365.3,486.2 365.6,486.3" fill="none" stroke="#2a3440" stroke-width="0.85" stroke-linecap="round"/>
<path d="M346.8,485.9 C346.8,486.3 346.7,487.5 346.6,488.3 C346.5,489.0 346.2,489.8 346.0,490.6 C345.9,491.4 345.7,492.2 345.7,492.9 C345.7,493.7 345.8,494.4 346.0,495.2 C346.2,495.9 346.5,496.6 346.8,497.3 C347.1,498.0 347.6,498.7 347.9,499.4 C348.3,500.1 348.7,500.8 349.0,501.5 C349.3,502.2 349.6,503.3 349.8,503.7" fill="none" stroke="#2a3440" stroke-width="0.85" stroke-linecap="round"/>
<ellipse cx="346.4" cy="496.2" rx="5" ry="1.05" transform="rotate(69 346.4 496.2)" fill="#3e7d39"/>
<path d="M349.8,503.7 C350.1,503.6 350.9,503.4 351.5,503.2 C352.1,503.0 352.7,502.8 353.2,502.5 C353.8,502.3 354.4,502.0 354.9,501.7 C355.5,501.4 356.1,501.1 356.7,500.9 C357.2,500.7 357.8,500.5 358.4,500.5 C359.0,500.5 359.6,500.6 360.2,500.8 C360.8,501.0 361.5,501.4 362.1,501.7 C362.7,501.9 363.6,502.2 363.9,502.3" fill="none" stroke="#2a3440" stroke-width="0.85" stroke-linecap="round"/>
<path d="M349.8,503.7 C349.9,504.0 350.2,505.0 350.5,505.7 C350.8,506.4 351.3,507.1 351.5,507.8 C351.8,508.5 352.0,509.2 352.0,509.9 C352.0,510.6 351.9,511.3 351.8,512.0 C351.6,512.7 351.3,513.4 351.1,514.1 C350.9,514.8 350.6,515.5 350.4,516.1 C350.2,516.8 350.0,517.5 349.9,518.2 C349.8,518.9 349.7,520.0 349.6,520.3" fill="none" stroke="#2a3440" stroke-width="0.85" stroke-linecap="round"/>
<ellipse cx="351.4" cy="513.0" rx="5" ry="1.05" transform="rotate(107 351.4 513.0)" fill="#3e7d39"/>
<path d="M364.3,451.8 C364.4,452.1 364.7,453.1 364.9,453.8 C365.2,454.5 365.7,455.1 366.0,455.8 C366.3,456.4 366.6,457.1 366.8,457.8 C367.1,458.4 367.2,459.1 367.2,459.8 C367.3,460.5 367.2,461.2 367.0,461.9 C366.9,462.5 366.6,463.2 366.4,463.9 C366.2,464.6 365.9,465.3 365.7,466.0 C365.6,466.7 365.5,467.8 365.4,468.1" fill="none" stroke="#2a3440" stroke-width="0.85" stroke-linecap="round"/>
<ellipse cx="367.1" cy="460.8" rx="5" ry="1.05" transform="rotate(95 367.1 460.8)" fill="#3e7d39"/>
<path d="M365.4,468.1 C365.8,468.0 366.9,467.8 367.7,467.6 C368.4,467.4 369.2,467.0 369.9,466.7 C370.7,466.4 371.4,466.1 372.2,465.9 C372.9,465.8 373.7,465.6 374.4,465.6 C375.2,465.6 375.9,465.6 376.7,465.8 C377.4,465.9 378.2,466.2 379.0,466.5 C379.7,466.7 380.5,467.1 381.2,467.3 C382.0,467.6 383.1,467.8 383.5,467.8" fill="none" stroke="#2a3440" stroke-width="0.85" stroke-linecap="round"/>
<path d="M365.4,468.1 C365.5,468.5 365.6,469.6 365.7,470.4 C365.9,471.1 366.1,471.9 366.3,472.6 C366.6,473.4 366.8,474.2 367.1,474.9 C367.3,475.7 367.5,476.4 367.7,477.2 C367.8,477.9 367.9,478.7 367.8,479.4 C367.8,480.2 367.6,481.0 367.3,481.7 C367.1,482.5 366.6,483.2 366.3,484.0 C366.1,484.8 365.8,485.9 365.6,486.3" fill="none" stroke="#2a3440" stroke-width="0.85" stroke-linecap="round"/>
<ellipse cx="367.8" cy="478.3" rx="5" ry="1.05" transform="rotate(86 367.8 478.3)" fill="#3e7d39"/>
<path d="M365.6,486.3 C366.0,486.3 367.2,486.5 367.9,486.6 C368.7,486.8 369.5,487.1 370.2,487.3 C371.0,487.5 371.8,487.8 372.5,487.9 C373.3,488.0 374.1,488.0 374.8,488.0 C375.6,487.9 376.3,487.7 377.0,487.5 C377.8,487.3 378.5,486.9 379.2,486.6 C379.9,486.3 380.7,485.9 381.4,485.6 C382.1,485.3 383.2,485.0 383.6,484.9" fill="none" stroke="#2a3440" stroke-width="0.85" stroke-linecap="round"/>
<path d="M365.6,486.3 C365.5,486.6 365.1,487.6 364.8,488.2 C364.4,488.9 363.9,489.5 363.6,490.1 C363.2,490.7 362.9,491.4 362.7,492.0 C362.6,492.7 362.5,493.4 362.5,494.0 C362.6,494.7 362.7,495.4 362.8,496.1 C363.0,496.8 363.2,497.5 363.4,498.2 C363.5,498.9 363.7,499.5 363.8,500.2 C363.9,500.9 363.9,501.9 363.9,502.3" fill="none" stroke="#2a3440" stroke-width="0.85" stroke-linecap="round"/>
<ellipse cx="363.6" cy="499.2" rx="5" ry="1.05" transform="rotate(78 363.6 499.2)" fill="#3e7d39"/>
<path d="M363.9,502.3 C364.3,502.4 365.5,502.7 366.3,502.9 C367.1,503.2 367.9,503.7 368.7,503.9 C369.5,504.2 370.3,504.4 371.1,504.4 C371.9,504.5 372.7,504.4 373.5,504.3 C374.3,504.2 375.1,503.9 375.9,503.7 C376.7,503.5 377.5,503.2 378.3,503.0 C379.1,502.7 379.9,502.5 380.6,502.3 C381.4,502.2 382.6,502.0 383.0,502.0" fill="none" stroke="#2a3440" stroke-width="0.85" stroke-linecap="round"/>
<ellipse cx="367.5" cy="503.4" rx="5" ry="1.05" transform="rotate(22 367.5 503.4)" fill="#3e7d39"/>
<path d="M363.9,502.3 C364.0,502.6 364.2,503.8 364.5,504.5 C364.7,505.2 365.0,506.0 365.3,506.7 C365.6,507.5 366.0,508.2 366.2,508.9 C366.4,509.7 366.6,510.4 366.7,511.2 C366.8,511.9 366.8,512.7 366.7,513.4 C366.6,514.2 366.4,515.0 366.1,515.7 C365.9,516.5 365.5,517.3 365.3,518.0 C365.1,518.8 364.9,519.9 364.8,520.3" fill="none" stroke="#2a3440" stroke-width="0.85" stroke-linecap="round"/>
<path d="M384.0,451.8 C384.0,452.1 384.2,453.1 384.3,453.8 C384.5,454.5 384.8,455.2 385.0,455.8 C385.3,456.5 385.6,457.2 385.7,457.9 C385.9,458.5 386.1,459.2 386.1,459.9 C386.1,460.6 386.1,461.2 385.9,461.9 C385.8,462.6 385.5,463.2 385.2,463.9 C384.9,464.5 384.4,465.2 384.2,465.8 C383.9,466.5 383.6,467.5 383.5,467.8" fill="none" stroke="#2a3440" stroke-width="0.85" stroke-linecap="round"/>
<path d="M383.5,467.8 C383.8,467.8 384.9,467.8 385.6,467.7 C386.3,467.6 387.0,467.4 387.7,467.3 C388.4,467.1 389.2,466.9 389.9,466.8 C390.6,466.7 391.3,466.6 392.0,466.7 C392.7,466.7 393.3,466.8 394.0,467.0 C394.7,467.3 395.3,467.6 395.9,468.0 C396.6,468.3 397.2,468.9 397.8,469.2 C398.5,469.6 399.5,470.0 399.8,470.1" fill="none" stroke="#2a3440" stroke-width="0.85" stroke-linecap="round"/>
<ellipse cx="388.8" cy="467.0" rx="5" ry="1.05" transform="rotate(-12 388.8 467.0)" fill="#3e7d39"/>
<path d="M383.5,467.8 C383.6,468.2 383.8,469.3 384.1,470.0 C384.4,470.7 384.8,471.4 385.0,472.1 C385.3,472.8 385.6,473.5 385.8,474.2 C385.9,474.9 386.0,475.6 385.9,476.4 C385.9,477.1 385.7,477.8 385.5,478.5 C385.3,479.2 385.0,479.9 384.8,480.6 C384.5,481.3 384.2,482.0 384.0,482.8 C383.8,483.5 383.7,484.5 383.6,484.9" fill="none" stroke="#2a3440" stroke-width="0.85" stroke-linecap="round"/>
<path d="M383.6,484.9 C383.9,485.0 384.9,485.4 385.6,485.7 C386.3,486.0 387.0,486.5 387.6,486.8 C388.3,487.0 389.0,487.2 389.6,487.2 C390.3,487.3 391.0,487.1 391.7,487.0 C392.3,486.8 393.0,486.6 393.7,486.4 C394.4,486.2 395.1,485.9 395.7,485.8 C396.4,485.6 397.1,485.4 397.8,485.3 C398.4,485.2 399.5,485.2 399.8,485.1" fill="none" stroke="#2a3440" stroke-width="0.85" stroke-linecap="round"/>
<ellipse cx="386.6" cy="486.2" rx="5" ry="1.05" transform="rotate(28 386.6 486.2)" fill="#3e7d39"/>
<path d="M383.6,484.9 C383.7,485.3 384.0,486.3 384.3,487.1 C384.6,487.8 385.0,488.5 385.3,489.2 C385.5,489.9 385.6,490.7 385.6,491.4 C385.7,492.1 385.5,492.8 385.3,493.5 C385.1,494.2 384.8,494.9 384.6,495.6 C384.4,496.3 384.1,497.0 383.9,497.7 C383.7,498.4 383.5,499.1 383.3,499.9 C383.2,500.6 383.1,501.6 383.0,502.0" fill="none" stroke="#2a3440" stroke-width="0.85" stroke-linecap="round"/>
<ellipse cx="385.0" cy="494.6" rx="5" ry="1.05" transform="rotate(109 385.0 494.6)" fill="#3e7d39"/>
<path d="M383.0,502.0 C383.4,501.9 384.4,501.8 385.1,501.7 C385.8,501.5 386.5,501.2 387.2,501.0 C387.9,500.8 388.6,500.5 389.3,500.3 C390.0,500.1 390.8,499.9 391.5,499.8 C392.2,499.8 392.9,499.8 393.5,499.9 C394.2,500.0 394.9,500.3 395.6,500.5 C396.3,500.8 397.0,501.3 397.7,501.6 C398.4,501.9 399.5,502.1 399.8,502.3" fill="none" stroke="#2a3440" stroke-width="0.85" stroke-linecap="round"/>
<ellipse cx="390.4" cy="500.1" rx="5" ry="1.05" transform="rotate(-13 390.4 500.1)" fill="#3e7d39"/>
<path d="M383.0,502.0 C382.9,502.4 382.5,503.5 382.2,504.2 C381.8,504.9 381.4,505.7 381.0,506.4 C380.6,507.1 380.3,507.9 380.1,508.6 C379.9,509.4 379.7,510.1 379.7,510.9 C379.7,511.7 379.8,512.4 379.9,513.2 C380.0,514.0 380.2,514.8 380.4,515.6 C380.5,516.4 380.8,517.2 380.9,518.0 C381.0,518.7 381.0,519.9 381.1,520.3" fill="none" stroke="#2a3440" stroke-width="0.85" stroke-linecap="round"/>
<ellipse cx="380.6" cy="516.8" rx="5" ry="1.05" transform="rotate(78 380.6 516.8)" fill="#3e7d39"/>
<circle cx="349.1" cy="470.3" r="1.5" fill="#111"/>
<circle cx="346.8" cy="485.9" r="1.5" fill="#111"/>
<circle cx="349.8" cy="503.7" r="1.5" fill="#111"/>
<circle cx="365.4" cy="468.1" r="1.5" fill="#111"/>
<circle cx="365.6" cy="486.3" r="1.5" fill="#111"/>
<circle cx="383.5" cy="467.8" r="1.5" fill="#111"/>
<circle cx="383.6" cy="484.9" r="1.5" fill="#111"/>
<circle cx="383.0" cy="502.0" r="1.5" fill="#111"/>
<rect x="493.8" y="460" width="99.59999999999997" height="55.799999999999955" fill="#fff" stroke="#6d6d6d" stroke-width="0.9"/>
<rect x="520.7" y="460.5" width="45.6" height="54.8" fill="#c7d0e9" />
<path d="M494.0,469.2 C494.2,469.4 495.0,469.9 495.5,470.3 C495.9,470.7 496.4,471.3 496.9,471.5 C497.4,471.7 497.9,471.8 498.4,471.6 C499.0,471.3 499.5,470.7 500.1,470.1 C500.6,469.6 501.2,468.7 501.7,468.3 C502.3,467.9 502.8,467.7 503.3,467.8 C503.8,467.9 504.3,468.5 504.8,468.9 C505.2,469.3 506.0,469.9 506.2,470.1" fill="none" stroke="#2b2b2b" stroke-width="0.85" stroke-linecap="round"/>
<ellipse cx="500.9" cy="469.2" rx="4.2" ry="0.95" transform="rotate(-47 500.9 469.2)" fill="#3e7d39"/>
<path d="M494.0,480.8 C494.3,481.0 495.2,481.5 495.8,481.9 C496.4,482.2 497.1,482.8 497.7,482.9 C498.3,483.0 498.9,482.8 499.5,482.4 C500.1,482.0 500.8,481.1 501.4,480.5 C502.0,480.0 502.6,479.2 503.3,478.9 C503.9,478.6 504.5,478.6 505.1,478.8 C505.7,478.9 506.3,479.5 506.9,479.9 C507.6,480.3 508.5,480.7 508.8,480.9" fill="none" stroke="#2b2b2b" stroke-width="0.85" stroke-linecap="round"/>
<ellipse cx="506.0" cy="479.3" rx="4.2" ry="0.95" transform="rotate(32 506.0 479.3)" fill="#3e7d39"/>
<path d="M494.0,493.1 C494.3,492.9 495.3,492.5 495.9,492.2 C496.6,491.9 497.2,491.3 497.8,491.2 C498.5,491.1 499.1,491.2 499.7,491.6 C500.2,491.9 500.8,492.7 501.4,493.3 C501.9,494.0 502.5,494.9 503.1,495.3 C503.7,495.7 504.3,496.0 504.9,496.0 C505.5,495.9 506.2,495.4 506.8,495.1 C507.4,494.8 508.4,494.3 508.7,494.1" fill="none" stroke="#2b2b2b" stroke-width="0.85" stroke-linecap="round"/>
<path d="M494.0,505.4 C494.2,505.2 495.0,504.4 495.5,504.1 C496.0,503.7 496.5,503.2 497.0,503.3 C497.5,503.3 498.0,503.9 498.6,504.5 C499.1,505.0 499.7,505.9 500.2,506.4 C500.8,506.9 501.3,507.3 501.8,507.4 C502.3,507.5 502.8,507.2 503.3,506.9 C503.8,506.6 504.3,506.0 504.8,505.7 C505.3,505.3 506.0,504.9 506.3,504.8" fill="none" stroke="#2b2b2b" stroke-width="0.85" stroke-linecap="round"/>
<path d="M506.3,460.0 C506.2,460.2 505.8,460.8 505.4,461.3 C505.1,461.7 504.5,462.1 504.3,462.5 C504.0,462.9 503.8,463.3 504.0,463.8 C504.1,464.2 504.6,464.6 505.1,465.0 C505.7,465.5 506.6,465.9 507.2,466.3 C507.7,466.7 508.2,467.2 508.2,467.6 C508.3,468.0 507.7,468.4 507.4,468.8 C507.1,469.3 506.4,469.9 506.2,470.1" fill="none" stroke="#2b2b2b" stroke-width="0.85" stroke-linecap="round"/>
<ellipse cx="506.2" cy="465.7" rx="4.2" ry="0.95" transform="rotate(33 506.2 465.7)" fill="#3e7d39"/>
<path d="M506.2,470.1 C506.5,470.0 507.5,469.7 508.2,469.4 C508.8,469.1 509.5,468.5 510.1,468.3 C510.8,468.1 511.4,467.9 512.0,468.0 C512.7,468.2 513.3,468.7 513.9,469.2 C514.5,469.8 515.1,470.8 515.7,471.3 C516.3,471.9 516.9,472.5 517.6,472.6 C518.2,472.7 518.9,472.2 519.5,471.9 C520.2,471.6 521.2,471.0 521.5,470.8" fill="none" stroke="#2b2b2b" stroke-width="0.85" stroke-linecap="round"/>
<ellipse cx="514.8" cy="470.3" rx="4.2" ry="0.95" transform="rotate(49 514.8 470.3)" fill="#3e7d39"/>
<path d="M506.2,470.1 C506.4,470.3 506.9,470.9 507.4,471.2 C507.8,471.6 508.5,471.9 508.8,472.3 C509.2,472.7 509.4,473.1 509.3,473.6 C509.2,474.1 508.8,474.7 508.4,475.3 C507.9,475.9 507.1,476.5 506.7,477.1 C506.4,477.7 506.0,478.2 506.1,478.7 C506.2,479.1 506.9,479.5 507.3,479.8 C507.8,480.2 508.5,480.7 508.8,480.9" fill="none" stroke="#2b2b2b" stroke-width="0.85" stroke-linecap="round"/>
<ellipse cx="508.8" cy="474.5" rx="4.2" ry="0.95" transform="rotate(120 508.8 474.5)" fill="#3e7d39"/>
<path d="M508.8,480.9 C509.1,480.8 510.0,480.6 510.6,480.4 C511.2,480.2 511.9,479.8 512.5,479.7 C513.1,479.7 513.6,479.8 514.1,480.2 C514.5,480.6 514.9,481.4 515.3,482.1 C515.7,482.8 516.0,483.8 516.4,484.4 C516.8,484.9 517.2,485.4 517.8,485.5 C518.3,485.6 519.0,485.1 519.6,485.0 C520.2,484.8 521.2,484.4 521.5,484.3" fill="none" stroke="#2b2b2b" stroke-width="0.85" stroke-linecap="round"/>
<path d="M508.8,480.9 C508.6,481.2 508.3,482.0 508.0,482.6 C507.6,483.1 507.1,483.7 506.8,484.2 C506.5,484.8 506.3,485.3 506.4,485.9 C506.5,486.4 506.9,487.0 507.4,487.5 C507.9,488.1 508.9,488.6 509.4,489.2 C510.0,489.7 510.6,490.3 510.7,490.8 C510.8,491.4 510.3,491.9 509.9,492.5 C509.6,493.0 508.9,493.9 508.7,494.1" fill="none" stroke="#2b2b2b" stroke-width="0.85" stroke-linecap="round"/>
<ellipse cx="506.9" cy="486.7" rx="4.2" ry="0.95" transform="rotate(58 506.9 486.7)" fill="#3e7d39"/>
<path d="M508.7,494.1 C509.0,494.2 509.9,494.6 510.5,494.9 C511.1,495.1 511.7,495.6 512.3,495.6 C512.8,495.7 513.3,495.5 513.8,495.0 C514.3,494.6 514.7,493.7 515.1,493.0 C515.5,492.4 515.9,491.5 516.4,491.0 C516.9,490.6 517.4,490.3 517.9,490.3 C518.5,490.4 519.1,490.9 519.7,491.1 C520.3,491.4 521.2,491.7 521.5,491.9" fill="none" stroke="#2b2b2b" stroke-width="0.85" stroke-linecap="round"/>
<path d="M508.7,494.1 C508.5,494.3 507.6,494.8 507.2,495.2 C506.8,495.6 506.2,495.9 506.2,496.4 C506.2,496.8 506.7,497.4 507.2,498.0 C507.6,498.5 508.4,499.2 508.8,499.8 C509.2,500.3 509.5,500.8 509.5,501.3 C509.5,501.8 509.2,502.2 508.8,502.6 C508.4,502.9 507.8,503.3 507.4,503.6 C507.0,504.0 506.5,504.6 506.3,504.8" fill="none" stroke="#2b2b2b" stroke-width="0.85" stroke-linecap="round"/>
<path d="M506.3,504.8 C506.6,504.5 507.5,503.8 508.0,503.4 C508.6,503.0 509.2,502.3 509.8,502.2 C510.5,502.2 511.1,502.5 511.8,502.9 C512.5,503.3 513.3,504.2 514.0,504.6 C514.7,505.1 515.4,505.6 516.1,505.7 C516.8,505.8 517.4,505.6 518.0,505.3 C518.6,505.0 519.1,504.3 519.7,503.9 C520.3,503.4 521.2,502.9 521.5,502.7" fill="none" stroke="#2b2b2b" stroke-width="0.85" stroke-linecap="round"/>
<ellipse cx="510.8" cy="502.6" rx="4.2" ry="0.95" transform="rotate(18 510.8 502.6)" fill="#3e7d39"/>
<path d="M506.3,504.8 C506.2,505.0 505.9,505.8 505.6,506.3 C505.4,506.7 504.8,507.3 504.6,507.8 C504.4,508.2 504.3,508.7 504.4,509.2 C504.6,509.6 505.1,510.0 505.7,510.4 C506.3,510.8 507.3,511.2 507.9,511.6 C508.5,512.0 509.1,512.4 509.2,512.8 C509.3,513.3 508.9,513.8 508.6,514.3 C508.3,514.8 507.7,515.5 507.5,515.8" fill="none" stroke="#2b2b2b" stroke-width="0.85" stroke-linecap="round"/>
<ellipse cx="508.5" cy="512.2" rx="4.2" ry="0.95" transform="rotate(43 508.5 512.2)" fill="#3e7d39"/>
<circle cx="506.2" cy="470.1" r="1.5" fill="#111"/>
<circle cx="506.3" cy="504.8" r="1.5" fill="#111"/>
<path d="M566.0,471.9 C566.3,471.7 567.1,471.4 567.7,471.0 C568.3,470.7 568.8,470.1 569.4,469.9 C570.0,469.6 570.5,469.3 571.1,469.5 C571.7,469.6 572.2,470.0 572.8,470.6 C573.4,471.1 574.0,472.0 574.5,472.6 C575.1,473.1 575.7,473.7 576.3,473.7 C576.8,473.8 577.4,473.3 578.0,472.9 C578.5,472.6 579.4,471.9 579.7,471.7" fill="none" stroke="#2b2b2b" stroke-width="0.85" stroke-linecap="round"/>
<ellipse cx="571.9" cy="470.0" rx="4.2" ry="0.95" transform="rotate(32 571.9 470.0)" fill="#3e7d39"/>
<path d="M566.0,480.7 C566.2,480.9 567.0,481.6 567.5,482.0 C568.0,482.4 568.5,483.1 569.0,483.2 C569.5,483.3 570.1,483.1 570.7,482.8 C571.3,482.4 572.0,481.6 572.6,481.1 C573.2,480.6 573.9,480.0 574.4,479.8 C575.0,479.6 575.6,479.7 576.1,479.9 C576.6,480.2 577.1,480.8 577.6,481.3 C578.1,481.7 578.8,482.2 579.1,482.4" fill="none" stroke="#2b2b2b" stroke-width="0.85" stroke-linecap="round"/>
<ellipse cx="575.3" cy="479.8" rx="4.2" ry="0.95" transform="rotate(5 575.3 479.8)" fill="#3e7d39"/>
<path d="M566.0,494.0 C566.2,494.1 567.0,494.7 567.5,495.1 C568.0,495.4 568.5,496.0 569.0,496.1 C569.5,496.2 570.0,495.9 570.5,495.5 C571.0,495.1 571.5,494.2 572.0,493.6 C572.5,493.1 573.1,492.4 573.6,492.1 C574.1,491.8 574.6,491.9 575.1,492.1 C575.6,492.2 576.1,492.9 576.5,493.2 C577.0,493.6 577.8,494.0 578.0,494.2" fill="none" stroke="#2b2b2b" stroke-width="0.85" stroke-linecap="round"/>
<path d="M566.0,506.0 C566.3,505.8 567.0,505.0 567.6,504.6 C568.1,504.1 568.6,503.5 569.2,503.4 C569.8,503.4 570.4,503.7 571.1,504.1 C571.7,504.5 572.5,505.4 573.1,505.8 C573.8,506.3 574.5,506.7 575.1,506.8 C575.7,506.9 576.3,506.7 576.8,506.3 C577.4,506.0 577.9,505.3 578.4,504.9 C578.9,504.5 579.7,504.0 580.0,503.8" fill="none" stroke="#2b2b2b" stroke-width="0.85" stroke-linecap="round"/>
<path d="M580.9,460.0 C580.8,460.2 580.4,460.9 580.0,461.4 C579.6,461.8 579.0,462.2 578.7,462.7 C578.4,463.2 578.0,463.6 578.1,464.1 C578.2,464.6 578.5,465.2 579.0,465.7 C579.5,466.2 580.4,466.8 580.9,467.4 C581.4,467.9 581.9,468.5 581.9,469.0 C582.0,469.5 581.4,469.9 581.0,470.4 C580.7,470.8 579.9,471.5 579.7,471.7" fill="none" stroke="#2b2b2b" stroke-width="0.85" stroke-linecap="round"/>
<ellipse cx="581.4" cy="468.2" rx="4.2" ry="0.95" transform="rotate(56 581.4 468.2)" fill="#3e7d39"/>
<path d="M579.7,471.7 C579.9,471.8 580.8,472.2 581.3,472.5 C581.9,472.9 582.4,473.5 583.0,473.8 C583.5,474.0 584.1,474.3 584.7,474.2 C585.2,474.1 585.8,473.7 586.4,473.2 C587.0,472.7 587.6,471.7 588.1,471.2 C588.7,470.7 589.3,470.1 589.9,470.0 C590.4,470.0 591.0,470.5 591.5,470.8 C592.1,471.2 592.9,471.9 593.2,472.1" fill="none" stroke="#2b2b2b" stroke-width="0.85" stroke-linecap="round"/>
<path d="M579.7,471.7 C579.8,471.9 580.2,472.6 580.5,473.1 C580.9,473.5 581.4,474.0 581.6,474.5 C581.8,474.9 581.8,475.4 581.5,475.8 C581.2,476.3 580.5,476.7 579.9,477.1 C579.3,477.5 578.4,477.9 577.9,478.3 C577.5,478.8 577.1,479.2 577.1,479.6 C577.2,480.1 577.7,480.6 578.0,481.0 C578.4,481.5 578.9,482.2 579.1,482.4" fill="none" stroke="#2b2b2b" stroke-width="0.85" stroke-linecap="round"/>
<ellipse cx="581.1" cy="473.8" rx="4.2" ry="0.95" transform="rotate(53 581.1 473.8)" fill="#3e7d39"/>
<path d="M579.1,482.4 C579.4,482.2 580.2,481.5 580.8,481.2 C581.4,480.8 582.0,480.3 582.6,480.4 C583.2,480.4 583.8,480.9 584.4,481.5 C585.0,482.0 585.6,482.9 586.2,483.5 C586.8,484.0 587.4,484.4 588.0,484.6 C588.6,484.7 589.1,484.4 589.7,484.2 C590.3,483.9 590.9,483.3 591.5,483.0 C592.0,482.6 592.9,482.2 593.2,482.1" fill="none" stroke="#2b2b2b" stroke-width="0.85" stroke-linecap="round"/>
<ellipse cx="590.6" cy="483.6" rx="4.2" ry="0.95" transform="rotate(-35 590.6 483.6)" fill="#3e7d39"/>
<path d="M579.1,482.4 C578.9,482.7 578.2,483.3 577.8,483.8 C577.4,484.3 576.8,484.7 576.7,485.2 C576.7,485.7 577.0,486.2 577.4,486.7 C577.8,487.3 578.6,487.8 579.2,488.4 C579.7,488.9 580.3,489.5 580.5,490.0 C580.7,490.5 580.6,491.0 580.4,491.5 C580.1,491.9 579.5,492.4 579.1,492.8 C578.7,493.3 578.2,494.0 578.0,494.2" fill="none" stroke="#2b2b2b" stroke-width="0.85" stroke-linecap="round"/>
<ellipse cx="578.3" cy="487.6" rx="4.2" ry="0.95" transform="rotate(42 578.3 487.6)" fill="#3e7d39"/>
<path d="M578.0,494.2 C578.4,494.1 579.3,493.7 580.0,493.4 C580.7,493.1 581.3,492.6 582.0,492.4 C582.6,492.3 583.3,492.2 583.9,492.5 C584.5,492.8 585.1,493.5 585.7,494.1 C586.3,494.7 586.8,495.7 587.4,496.2 C588.0,496.7 588.6,497.1 589.3,497.1 C589.9,497.1 590.6,496.6 591.2,496.3 C591.9,496.0 592.9,495.5 593.2,495.3" fill="none" stroke="#2b2b2b" stroke-width="0.85" stroke-linecap="round"/>
<path d="M578.0,494.2 C577.9,494.4 577.7,495.1 577.4,495.6 C577.2,496.0 576.7,496.6 576.6,497.0 C576.4,497.5 576.3,497.9 576.5,498.3 C576.8,498.6 577.3,498.9 578.0,499.2 C578.6,499.5 579.6,499.7 580.2,500.0 C580.8,500.3 581.4,500.6 581.5,501.0 C581.6,501.4 581.2,501.9 580.9,502.3 C580.7,502.8 580.2,503.5 580.0,503.8" fill="none" stroke="#2b2b2b" stroke-width="0.85" stroke-linecap="round"/>
<ellipse cx="581.2" cy="501.7" rx="4.2" ry="0.95" transform="rotate(113 581.2 501.7)" fill="#3e7d39"/>
<path d="M580.0,503.8 C580.3,503.7 581.2,503.4 581.9,503.1 C582.5,502.9 583.2,502.4 583.7,502.4 C584.3,502.4 584.8,502.5 585.3,503.0 C585.8,503.4 586.2,504.3 586.6,505.0 C587.1,505.6 587.4,506.6 587.9,507.1 C588.4,507.6 588.9,507.9 589.5,507.9 C590.0,507.9 590.7,507.4 591.3,507.2 C592.0,507.0 592.9,506.6 593.2,506.5" fill="none" stroke="#2b2b2b" stroke-width="0.85" stroke-linecap="round"/>
<ellipse cx="590.4" cy="507.6" rx="4.2" ry="0.95" transform="rotate(-20 590.4 507.6)" fill="#3e7d39"/>
<path d="M580.0,503.8 C580.1,504.0 580.5,504.8 580.8,505.3 C581.1,505.9 581.7,506.4 581.8,506.9 C582.0,507.4 582.1,508.0 581.8,508.4 C581.5,508.9 580.9,509.4 580.3,509.8 C579.7,510.3 578.7,510.7 578.2,511.2 C577.7,511.7 577.3,512.1 577.3,512.6 C577.3,513.1 577.8,513.7 578.1,514.2 C578.4,514.7 578.9,515.5 579.1,515.8" fill="none" stroke="#2b2b2b" stroke-width="0.85" stroke-linecap="round"/>
<ellipse cx="579.2" cy="510.5" rx="4.2" ry="0.95" transform="rotate(147 579.2 510.5)" fill="#3e7d39"/>
<circle cx="579.1" cy="482.4" r="1.5" fill="#111"/>
<circle cx="578.0" cy="494.2" r="1.5" fill="#111"/>
<path d="M520.0,466.0 C522.0,466.3 528.0,467.6 532.0,468.0 C536.0,468.4 540.2,468.1 544.2,468.4 C548.2,468.7 552.2,470.2 556.0,470.0 C559.8,469.8 565.2,467.5 567.0,467.0" fill="none" stroke="#2b2b2b" stroke-width="0.85" stroke-linecap="round"/>
<ellipse cx="526.0" cy="467.0" rx="5.4" ry="1.05" transform="rotate(9 526.0 467.0)" fill="#3e7d39"/>
<ellipse cx="550.1" cy="469.2" rx="5.4" ry="1.05" transform="rotate(8 550.1 469.2)" fill="#3e7d39"/>
<path d="M520.0,478.0 C521.8,477.8 527.5,476.5 531.0,477.0 C534.5,477.5 537.3,479.8 541.0,481.0 C544.7,482.2 548.7,484.2 553.0,484.0 C557.3,483.8 564.7,480.7 567.0,480.0" fill="none" stroke="#2b2b2b" stroke-width="0.85" stroke-linecap="round"/>
<ellipse cx="536.0" cy="479.0" rx="5.4" ry="1.05" transform="rotate(22 536.0 479.0)" fill="#3e7d39"/>
<ellipse cx="560.0" cy="482.0" rx="5.4" ry="1.05" transform="rotate(-16 560.0 482.0)" fill="#3e7d39"/>
<path d="M520.0,489.0 C521.7,489.5 526.2,491.8 530.0,492.0 C533.8,492.2 538.5,490.5 543.0,490.0 C547.5,489.5 553.0,488.5 557.0,489.0 C561.0,489.5 565.3,492.3 567.0,493.0" fill="none" stroke="#2b2b2b" stroke-width="0.85" stroke-linecap="round"/>
<ellipse cx="525.0" cy="490.5" rx="5.4" ry="1.05" transform="rotate(17 525.0 490.5)" fill="#3e7d39"/>
<ellipse cx="550.0" cy="489.5" rx="5.4" ry="1.05" transform="rotate(-4 550.0 489.5)" fill="#3e7d39"/>
<path d="M520.0,500.0 C522.2,499.8 528.8,498.5 533.0,499.0 C537.2,499.5 541.2,502.7 545.0,503.0 C548.8,503.3 552.3,500.8 556.0,501.0 C559.7,501.2 565.2,503.5 567.0,504.0" fill="none" stroke="#2b2b2b" stroke-width="0.85" stroke-linecap="round"/>
<ellipse cx="539.0" cy="501.0" rx="5.4" ry="1.05" transform="rotate(18 539.0 501.0)" fill="#3e7d39"/>
<ellipse cx="561.5" cy="502.5" rx="5.4" ry="1.05" transform="rotate(15 561.5 502.5)" fill="#3e7d39"/>
<path d="M520.0,510.0 C522.3,510.2 529.3,511.2 534.0,511.0 C538.7,510.8 542.5,508.8 548.0,509.0 C553.5,509.2 563.8,511.5 567.0,512.0" fill="none" stroke="#2b2b2b" stroke-width="0.85" stroke-linecap="round"/>
<ellipse cx="541.0" cy="510.0" rx="5.4" ry="1.05" transform="rotate(-8 541.0 510.0)" fill="#3e7d39"/>
<circle cx="541.0" cy="481.0" r="1.5" fill="#111"/>
<circle cx="557.0" cy="489.0" r="1.5" fill="#111"/>
<circle cx="551.0" cy="468.6" r="1.5" fill="#111"/>
<circle cx="531.0" cy="477.0" r="1.5" fill="#111"/>
<circle cx="544.2" cy="468.4" r="2.1" fill="#c7d0e9" stroke="#3b66b0" stroke-width="1"/>
</g>
<text x="11.4" y="545.4" font-size="22.8" font-weight="700" fill="#111" text-anchor="start" >c</text>
<rect x="33.1" y="538.4" width="97.7" height="97.0" fill="url(#gBlueC)" />
<rect x="193.4" y="538.4" width="98.4" height="97.0" fill="#725c69" />
<rect x="400.4" y="538.4" width="98.2" height="97.0" fill="url(#gBlueC2)" />
<rect x="568.2" y="538.4" width="98.2" height="97.0" fill="#826b79" />
<rect x="568.2" y="538.4" width="98.2" height="97.0" filter="url(#nzW)" opacity="0.16"/><rect x="568.2" y="538.4" width="98.2" height="97.0" filter="url(#nzB)" opacity="0.16"/>
<rect x="193.4" y="538.4" width="98.4" height="97.0" filter="url(#nzW)" opacity="0.16"/><rect x="193.4" y="538.4" width="98.4" height="97.0" filter="url(#nzB)" opacity="0.16"/>
<rect x="33.1" y="538.4" width="97.7" height="97.0" filter="url(#nzW)" opacity="0.11"/><rect x="33.1" y="538.4" width="97.7" height="97.0" filter="url(#nzB)" opacity="0.11"/>
<rect x="400.4" y="538.4" width="98.2" height="97.0" filter="url(#nzW)" opacity="0.11"/><rect x="400.4" y="538.4" width="98.2" height="97.0" filter="url(#nzB)" opacity="0.11"/>
<rect x="33.1" y="658.8" width="97.7" height="97.5" fill="url(#gBlueC)" />
<rect x="194.4" y="658.8" width="98.4" height="97.5" fill="#7a6274" />
<rect x="400.4" y="658.8" width="98.2" height="97.5" fill="url(#gBlueC2)" />
<rect x="568.2" y="658.8" width="98.2" height="97.9" fill="url(#gPurD)" />
<rect x="568.2" y="658.8" width="98.2" height="97.5" filter="url(#nzW)" opacity="0.16"/><rect x="568.2" y="658.8" width="98.2" height="97.5" filter="url(#nzB)" opacity="0.16"/>
<rect x="194.4" y="658.8" width="98.4" height="97.5" filter="url(#nzW)" opacity="0.16"/><rect x="194.4" y="658.8" width="98.4" height="97.5" filter="url(#nzB)" opacity="0.16"/>
<rect x="33.1" y="658.8" width="97.7" height="97.5" filter="url(#nzW)" opacity="0.11"/><rect x="33.1" y="658.8" width="97.7" height="97.5" filter="url(#nzB)" opacity="0.11"/>
<rect x="400.4" y="658.8" width="98.2" height="97.5" filter="url(#nzW)" opacity="0.11"/><rect x="400.4" y="658.8" width="98.2" height="97.5" filter="url(#nzB)" opacity="0.11"/>
<text x="143.8" y="566.1" font-size="15.35" font-weight="700" fill="#c4202c" text-anchor="start" >Heat</text>
<line x1="138.4" y1="578.2" x2="179.66" y2="578.2" stroke="#c4202c" stroke-width="1.8" />
<polygon points="184,578.2 177.8,575.1 177.8,581.3000000000001" fill="#c4202c"/>
<line x1="184" y1="589.3" x2="142.74" y2="589.3" stroke="#1f2e6e" stroke-width="1.8" />
<polygon points="138.4,589.3 144.6,586.1999999999999 144.6,592.4" fill="#1f2e6e"/>
<text x="143.8" y="609.5" font-size="15.35" font-weight="700" fill="#1f2e6e" text-anchor="start" >Cool</text>
<text x="143.8" y="687.7" font-size="15.35" font-weight="700" fill="#c4202c" text-anchor="start" >Heat</text>
<line x1="137.4" y1="699" x2="179.06" y2="699" stroke="#c4202c" stroke-width="1.8" />
<polygon points="183.4,699 177.20000000000002,695.9 177.20000000000002,702.1" fill="#c4202c"/>
<line x1="183.4" y1="709.4" x2="141.74" y2="709.4" stroke="#1f2e6e" stroke-width="1.8" />
<polygon points="137.4,709.4 143.6,706.3 143.6,712.5" fill="#1f2e6e"/>
<text x="143.8" y="730.3" font-size="15.35" font-weight="700" fill="#1f2e6e" text-anchor="start" >Cool</text>
<text x="515.4" y="566.1" font-size="15.35" font-weight="700" fill="#c4202c" text-anchor="start" >Heat</text>
<line x1="508.7" y1="578.2" x2="550.16" y2="578.2" stroke="#c4202c" stroke-width="1.8" />
<polygon points="554.5,578.2 548.3,575.1 548.3,581.3000000000001" fill="#c4202c"/>
<line x1="554.5" y1="589.3" x2="513.04" y2="589.3" stroke="#1f2e6e" stroke-width="1.8" />
<polygon points="508.7,589.3 514.9,586.1999999999999 514.9,592.4" fill="#1f2e6e"/>
<text x="515.4" y="609.5" font-size="15.35" font-weight="700" fill="#1f2e6e" text-anchor="start" >Cool</text>
<text x="515.4" y="687.7" font-size="15.35" font-weight="700" fill="#c4202c" text-anchor="start" >Heat</text>
<line x1="509" y1="699" x2="550.16" y2="699" stroke="#c4202c" stroke-width="1.8" />
<polygon points="554.5,699 548.3,695.9 548.3,702.1" fill="#c4202c"/>
<line x1="554.5" y1="709.4" x2="513.34" y2="709.4" stroke="#1f2e6e" stroke-width="1.8" />
<polygon points="509,709.4 515.2,706.3 515.2,712.5" fill="#1f2e6e"/>
<text x="515.4" y="730.3" font-size="15.35" font-weight="700" fill="#1f2e6e" text-anchor="start" >Cool</text>
<text x="320.8" y="570.8" font-size="15"  fill="#111" text-anchor="start" >I. Swell</text>
<line x1="299.2" y1="579.4" x2="391.90000000000003" y2="579.4" stroke="#111" stroke-width="1.6" />
<polygon points="396.8,579.4 389.8,576.1 389.8,582.6999999999999" fill="#111"/>
<text x="302.3" y="598" font-size="14.9"  fill="#111" text-anchor="start" >II. Evaporate</text>
<text x="323.6" y="691.3" font-size="15"  fill="#111" text-anchor="start" >I. Swell</text>
<line x1="394" y1="700.4" x2="301.29999999999995" y2="700.4" stroke="#111" stroke-width="1.6" />
<polygon points="296.4,700.4 303.4,697.1 303.4,703.6999999999999" fill="#111"/>
<text x="305.8" y="719.4" font-size="14.8"  fill="#111" text-anchor="start" >II. Evaporate</text>
<path d="M687.6,595.1 H705.8 V717.6 Q705.8,719.6 703.6,719.8 L692.5,720.6" fill="none" stroke="#111" stroke-width="1.6"/>
<polygon points="688.6,720.8 693.2,718.2 693.4,723.2" fill="#111"/>
<text transform="translate(686.6,612.6) rotate(90)" font-size="15.05" fill="#111">II. Evaporate</text>
<text transform="translate(714.4,630.2) rotate(90)" font-size="15.6" fill="#111">I. Swell</text>
<g filter="url(#soft)">
<path d="M39.3,577.7 C44,578.5 48,580.5 51.4,581.3 L109.8,580.3 C114,579.5 117,577 119,573.5 C121,578 121.6,582 121.2,586.3 C121.4,592 120.5,598 119,602 C117,598.5 114,596.5 109.8,595.5 L52.8,596.3 C49.5,597.5 46.5,600 44.2,603.4 C42.5,599 41.3,595 40.7,592 C40,587 39.5,582 39.3,577.7 Z" fill="#8f9be6" stroke="#dfe3f8" stroke-width="1.5" stroke-linejoin="round"/>
<path d="M40.2,579 C44.5,580 48.5,582.5 50.4,584.6 L51,593.4 C48,596 45.6,599.4 44.4,602 C42.6,597 41.4,593 41,590 Z" fill="#bac2ef"/>
<path d="M118.8,575 C116.8,578.6 114,580.4 110.6,581.2 L110.8,594.8 C114.4,595.8 117,597.6 118.8,600.6 C120.6,593 120.8,583 118.8,575 Z" fill="#b3bcee"/>
<path d="M52,584.4 C70,584 92,583.6 109,583.4" stroke="#b5bef0" stroke-width="1.2" fill="none"/>
<path d="M52,593.6 C70,594.2 92,593.8 109.4,593.4" stroke="#e8ebfa" stroke-width="1.6" fill="none"/>
<rect x="217.8" y="577" width="47.4" height="22.8" rx="1.5" fill="#82707d"/>
<path d="M218.4,577.6 H264.6 V599.2 H218.4 Z" fill="none" stroke="#9a8b97" stroke-width="0.9"/>
<path d="M222.5,580.4 C226,584.5 240,584 262,581.6 M233.5,598.4 C235,590 250,592.4 263,590.6" stroke="#e3dde4" stroke-width="1.5" fill="none"/>
<path d="M428.6,580.6 L449,582 C452.4,580.6 454.4,577 455.4,573.2 L464.7,573.5 C465.8,582 465.8,591 465.1,599.1 L456.1,598.4 C454.6,595.6 453,594 449.6,593.4 L430.5,596.3 C429.4,591 428.8,586 428.6,580.6 Z" fill="#e9e6e4"/>
<path d="M434.6,584.4 L450,585 L450.4,591 L435.4,592.6 Z" fill="#c3c8e8"/>
<path d="M452,583 C455,580 456.4,577 457,574.6 M452,592.6 C455,594.4 456.6,596 457.4,597.6" stroke="#f6f4f2" stroke-width="1.6" fill="none"/>
<rect x="590.6" y="577" width="48.4" height="27" rx="1.5" fill="#998f9c"/>
<path d="M592,585 C605,587 620,582 638,584 M592,594 C606,590 622,598 638,593" stroke="#d6d0da" stroke-width="1.4" fill="none"/>
<path d="M48.5,696.3 L56.4,700.6 L104.1,700.6 L109.1,696.3 L115.5,695.6 L116.2,719.1 L107.6,718.4 L104.1,714.8 L56.4,714.8 L51.4,717.7 L47.8,716.3 Z" fill="#a0abea" stroke="#d4d9f5" stroke-width="1.1" stroke-linejoin="round"/>
<path d="M48.7,697 L56,701 V714.4 L51.4,717 L48.2,715.8 Z" fill="#d5daf4"/>
<path d="M104.5,701 L109.3,696.9 L115.1,696.2 L115.7,718.5 L107.8,717.8 L104.5,714.4 Z" fill="#d5daf4"/>
<path d="M56.4,701.6 H104 M56.4,714 H104" stroke="#e2e5f8" stroke-width="1.5" fill="none"/>
<path d="M58,705 L79,707.6 L102,704.6 M58,710.6 L79,708.6 L102,710.8" stroke="#c6cdf2" stroke-width="1.1" fill="none"/>
<rect x="216.4" y="697.2" width="50.2" height="25.8" rx="1.5" fill="#88717f"/>
<path d="M217,697.8 H266 V722.4 H217 Z" fill="none" stroke="#9e8d9a" stroke-width="0.9"/>
<path d="M218,701.4 C232,702.6 248,700.6 265,699.6 M218,711.6 C232,712.6 248,714.6 257.6,722" stroke="#ddd5de" stroke-width="1.4" fill="none"/>
<polygon points="439.7,689.2 461.1,691.3 476.8,716.3 452.6,730.5 451.1,717.7 446,703 445.4,719.1 441.2,731.2 415.5,715.5" fill="#b9c3ee"/>
<polygon points="415.5,715.5 421,711 446,722.5 441.2,731.2" fill="#e0e4f6"/>
<polygon points="476.8,716.3 471.5,712 451.5,721 452.6,730.5" fill="#e0e4f6"/>
<rect x="593.5" y="695.8" width="49.2" height="25" rx="1.5" fill="#91869a"/>
<path d="M595,703 C610,704 625,701 641,703 M595,713 C610,710 626,717 641,712" stroke="#d6d0da" stroke-width="1.3" fill="none"/>
</g>
<rect x="105.6" y="627.3" width="17.0" height="2.2" fill="#f2f2fa" />
<rect x="268.4" y="627.3" width="17.0" height="2.2" fill="#f2dde6" />
<rect x="474.0" y="627.3" width="17.0" height="2.2" fill="#f2f2fa" />
<rect x="640.8" y="627.3" width="17.6" height="2.2" fill="#f2e4ea" />
<rect x="105.6" y="748.3" width="17.0" height="2.2" fill="#f2f2fa" />
<rect x="270.4" y="748.9" width="17.0" height="2.2" fill="#f2dde6" />
<rect x="474.0" y="748.7" width="17.0" height="2.2" fill="#f2f2fa" />
<rect x="642.0" y="748.3" width="17.0" height="2.2" fill="#f2e4ea" />
<text x="567.6" y="737" font-size="23" font-weight="700" fill="#ffffff" fill-opacity="0.88" style="font-family:'Liberation Sans','Noto Sans CJK SC',sans-serif" textLength="99" lengthAdjust="spacingAndGlyphs">南极熊3D</text>
</g>
</svg></body></html>
